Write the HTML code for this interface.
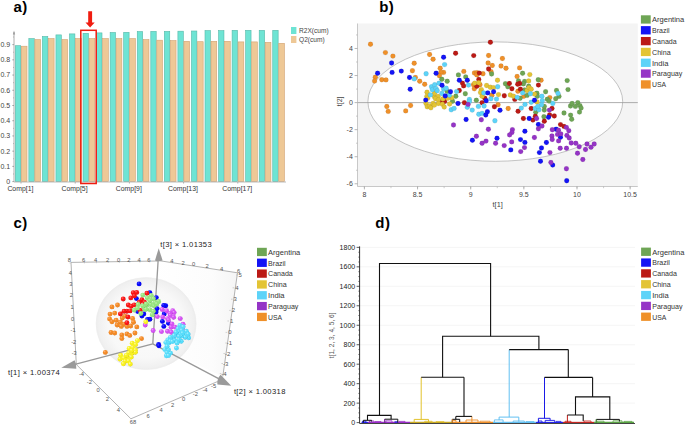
<!DOCTYPE html><html><head><meta charset="utf-8"><style>html,body{margin:0;padding:0;background:#fff;} svg{display:block;font-family:"Liberation Sans", sans-serif;}</style></head><body>
<svg width="685" height="426" viewBox="0 0 685 426">
<text x="13.40" y="11.80" font-size="15" text-anchor="start" fill="#000" font-weight="bold" letter-spacing="0.6">a)</text>
<rect x="15.30" y="45.70" width="5.4" height="135.90" fill="#6ee4d4" stroke="#55b8a8" stroke-width="0.6"/>
<rect x="21.30" y="46.20" width="5.7" height="135.40" fill="#eec896" stroke="#d2a272" stroke-width="0.6"/>
<rect x="28.85" y="38.60" width="5.4" height="143.00" fill="#6ee4d4" stroke="#55b8a8" stroke-width="0.6"/>
<rect x="34.85" y="39.60" width="5.7" height="142.00" fill="#eec896" stroke="#d2a272" stroke-width="0.6"/>
<rect x="42.40" y="36.50" width="5.4" height="145.10" fill="#6ee4d4" stroke="#55b8a8" stroke-width="0.6"/>
<rect x="48.40" y="38.60" width="5.7" height="143.00" fill="#eec896" stroke="#d2a272" stroke-width="0.6"/>
<rect x="55.95" y="34.90" width="5.4" height="146.70" fill="#6ee4d4" stroke="#55b8a8" stroke-width="0.6"/>
<rect x="61.95" y="39.60" width="5.7" height="142.00" fill="#eec896" stroke="#d2a272" stroke-width="0.6"/>
<rect x="69.50" y="33.90" width="5.4" height="147.70" fill="#6ee4d4" stroke="#55b8a8" stroke-width="0.6"/>
<rect x="75.50" y="38.60" width="5.7" height="143.00" fill="#eec896" stroke="#d2a272" stroke-width="0.6"/>
<rect x="83.05" y="33.30" width="5.4" height="148.30" fill="#6ee4d4" stroke="#55b8a8" stroke-width="0.6"/>
<rect x="89.05" y="38.60" width="5.7" height="143.00" fill="#eec896" stroke="#d2a272" stroke-width="0.6"/>
<rect x="96.60" y="32.90" width="5.4" height="148.70" fill="#6ee4d4" stroke="#55b8a8" stroke-width="0.6"/>
<rect x="102.60" y="38.60" width="5.7" height="143.00" fill="#eec896" stroke="#d2a272" stroke-width="0.6"/>
<rect x="110.15" y="32.50" width="5.4" height="149.10" fill="#6ee4d4" stroke="#55b8a8" stroke-width="0.6"/>
<rect x="116.15" y="38.60" width="5.7" height="143.00" fill="#eec896" stroke="#d2a272" stroke-width="0.6"/>
<rect x="123.70" y="32.30" width="5.4" height="149.30" fill="#6ee4d4" stroke="#55b8a8" stroke-width="0.6"/>
<rect x="129.70" y="38.60" width="5.7" height="143.00" fill="#eec896" stroke="#d2a272" stroke-width="0.6"/>
<rect x="137.25" y="31.60" width="5.4" height="150.00" fill="#6ee4d4" stroke="#55b8a8" stroke-width="0.6"/>
<rect x="143.25" y="39.60" width="5.7" height="142.00" fill="#eec896" stroke="#d2a272" stroke-width="0.6"/>
<rect x="150.80" y="31.40" width="5.4" height="150.20" fill="#6ee4d4" stroke="#55b8a8" stroke-width="0.6"/>
<rect x="156.80" y="40.20" width="5.7" height="141.40" fill="#eec896" stroke="#d2a272" stroke-width="0.6"/>
<rect x="164.35" y="31.40" width="5.4" height="150.20" fill="#6ee4d4" stroke="#55b8a8" stroke-width="0.6"/>
<rect x="170.35" y="40.60" width="5.7" height="141.00" fill="#eec896" stroke="#d2a272" stroke-width="0.6"/>
<rect x="177.90" y="31.20" width="5.4" height="150.40" fill="#6ee4d4" stroke="#55b8a8" stroke-width="0.6"/>
<rect x="183.90" y="41.30" width="5.7" height="140.30" fill="#eec896" stroke="#d2a272" stroke-width="0.6"/>
<rect x="191.45" y="31.00" width="5.4" height="150.60" fill="#6ee4d4" stroke="#55b8a8" stroke-width="0.6"/>
<rect x="197.45" y="41.70" width="5.7" height="139.90" fill="#eec896" stroke="#d2a272" stroke-width="0.6"/>
<rect x="205.00" y="30.60" width="5.4" height="151.00" fill="#6ee4d4" stroke="#55b8a8" stroke-width="0.6"/>
<rect x="211.00" y="41.30" width="5.7" height="140.30" fill="#eec896" stroke="#d2a272" stroke-width="0.6"/>
<rect x="218.55" y="30.60" width="5.4" height="151.00" fill="#6ee4d4" stroke="#55b8a8" stroke-width="0.6"/>
<rect x="224.55" y="41.30" width="5.7" height="140.30" fill="#eec896" stroke="#d2a272" stroke-width="0.6"/>
<rect x="232.10" y="30.30" width="5.4" height="151.30" fill="#6ee4d4" stroke="#55b8a8" stroke-width="0.6"/>
<rect x="238.10" y="41.90" width="5.7" height="139.70" fill="#eec896" stroke="#d2a272" stroke-width="0.6"/>
<rect x="245.65" y="30.30" width="5.4" height="151.30" fill="#6ee4d4" stroke="#55b8a8" stroke-width="0.6"/>
<rect x="251.65" y="41.90" width="5.7" height="139.70" fill="#eec896" stroke="#d2a272" stroke-width="0.6"/>
<rect x="259.20" y="30.30" width="5.4" height="151.30" fill="#6ee4d4" stroke="#55b8a8" stroke-width="0.6"/>
<rect x="265.20" y="42.40" width="5.7" height="139.20" fill="#eec896" stroke="#d2a272" stroke-width="0.6"/>
<rect x="272.75" y="30.30" width="5.4" height="151.30" fill="#6ee4d4" stroke="#55b8a8" stroke-width="0.6"/>
<rect x="278.75" y="43.30" width="5.7" height="138.30" fill="#eec896" stroke="#d2a272" stroke-width="0.6"/>
<line x1="14.00" y1="32.00" x2="14.00" y2="182.00" stroke="#999" stroke-width="0.8" />
<path d="M12.9,34.6 L14,30.4 L15.1,34.6 Z" fill="#999"/>
<line x1="14.00" y1="182.00" x2="286.00" y2="182.00" stroke="#aaa" stroke-width="0.8" />
<line x1="12.30" y1="181.60" x2="14.00" y2="181.60" stroke="#888" stroke-width="0.7" />
<text x="10.20" y="184.00" font-size="7" text-anchor="end" fill="#444" font-weight="normal" >0</text>
<line x1="13.00" y1="173.99" x2="14.00" y2="173.99" stroke="#999" stroke-width="0.6" />
<line x1="12.30" y1="166.38" x2="14.00" y2="166.38" stroke="#888" stroke-width="0.7" />
<text x="10.20" y="168.78" font-size="7" text-anchor="end" fill="#444" font-weight="normal" >0.1</text>
<line x1="13.00" y1="158.77" x2="14.00" y2="158.77" stroke="#999" stroke-width="0.6" />
<line x1="12.30" y1="151.16" x2="14.00" y2="151.16" stroke="#888" stroke-width="0.7" />
<text x="10.20" y="153.56" font-size="7" text-anchor="end" fill="#444" font-weight="normal" >0.2</text>
<line x1="13.00" y1="143.55" x2="14.00" y2="143.55" stroke="#999" stroke-width="0.6" />
<line x1="12.30" y1="135.94" x2="14.00" y2="135.94" stroke="#888" stroke-width="0.7" />
<text x="10.20" y="138.34" font-size="7" text-anchor="end" fill="#444" font-weight="normal" >0.3</text>
<line x1="13.00" y1="128.33" x2="14.00" y2="128.33" stroke="#999" stroke-width="0.6" />
<line x1="12.30" y1="120.72" x2="14.00" y2="120.72" stroke="#888" stroke-width="0.7" />
<text x="10.20" y="123.12" font-size="7" text-anchor="end" fill="#444" font-weight="normal" >0.4</text>
<line x1="13.00" y1="113.11" x2="14.00" y2="113.11" stroke="#999" stroke-width="0.6" />
<line x1="12.30" y1="105.50" x2="14.00" y2="105.50" stroke="#888" stroke-width="0.7" />
<text x="10.20" y="107.90" font-size="7" text-anchor="end" fill="#444" font-weight="normal" >0.5</text>
<line x1="13.00" y1="97.89" x2="14.00" y2="97.89" stroke="#999" stroke-width="0.6" />
<line x1="12.30" y1="90.28" x2="14.00" y2="90.28" stroke="#888" stroke-width="0.7" />
<text x="10.20" y="92.68" font-size="7" text-anchor="end" fill="#444" font-weight="normal" >0.6</text>
<line x1="13.00" y1="82.67" x2="14.00" y2="82.67" stroke="#999" stroke-width="0.6" />
<line x1="12.30" y1="75.06" x2="14.00" y2="75.06" stroke="#888" stroke-width="0.7" />
<text x="10.20" y="77.46" font-size="7" text-anchor="end" fill="#444" font-weight="normal" >0.7</text>
<line x1="13.00" y1="67.45" x2="14.00" y2="67.45" stroke="#999" stroke-width="0.6" />
<line x1="12.30" y1="59.84" x2="14.00" y2="59.84" stroke="#888" stroke-width="0.7" />
<text x="10.20" y="62.24" font-size="7" text-anchor="end" fill="#444" font-weight="normal" >0.8</text>
<line x1="13.00" y1="52.23" x2="14.00" y2="52.23" stroke="#999" stroke-width="0.6" />
<line x1="12.30" y1="44.62" x2="14.00" y2="44.62" stroke="#888" stroke-width="0.7" />
<text x="10.20" y="47.02" font-size="7" text-anchor="end" fill="#444" font-weight="normal" >0.9</text>
<line x1="13.00" y1="37.01" x2="14.00" y2="37.01" stroke="#999" stroke-width="0.6" />
<line x1="21.00" y1="182.00" x2="21.00" y2="183.60" stroke="#999" stroke-width="0.7" />
<text x="20.40" y="191.30" font-size="6.9" text-anchor="middle" fill="#333" font-weight="normal" >Comp[1]</text>
<line x1="75.20" y1="182.00" x2="75.20" y2="183.60" stroke="#999" stroke-width="0.7" />
<text x="74.60" y="191.30" font-size="6.9" text-anchor="middle" fill="#333" font-weight="normal" >Comp[5]</text>
<line x1="129.40" y1="182.00" x2="129.40" y2="183.60" stroke="#999" stroke-width="0.7" />
<text x="128.80" y="191.30" font-size="6.9" text-anchor="middle" fill="#333" font-weight="normal" >Comp[9]</text>
<line x1="183.60" y1="182.00" x2="183.60" y2="183.60" stroke="#999" stroke-width="0.7" />
<text x="183.00" y="191.30" font-size="6.9" text-anchor="middle" fill="#333" font-weight="normal" >Comp[13]</text>
<line x1="237.80" y1="182.00" x2="237.80" y2="183.60" stroke="#999" stroke-width="0.7" />
<text x="237.20" y="191.30" font-size="6.9" text-anchor="middle" fill="#333" font-weight="normal" >Comp[17]</text>
<rect x="80.8" y="30.3" width="15.4" height="153.2" fill="none" stroke="#f01c10" stroke-width="1.5"/>
<path d="M88.2,11.3 H92.1 V22.6 H94.7 L90.1,27.4 L85.5,22.6 H88.2 Z" fill="#f01c10"/>
<rect x="291" y="27" width="5.4" height="7" fill="#6ee4d4"/>
<rect x="291" y="36" width="5.4" height="7" fill="#eec896"/>
<text x="299.00" y="33.20" font-size="6.6" text-anchor="start" fill="#444" font-weight="normal" >R2X(cum)</text>
<text x="299.00" y="42.20" font-size="6.6" text-anchor="start" fill="#444" font-weight="normal" >Q2(cum)</text>
<text x="379.30" y="11.80" font-size="15" text-anchor="start" fill="#000" font-weight="bold" letter-spacing="0.4">b)</text>
<rect x="357.5" y="23.5" width="280.3" height="163" fill="#f4f4f4"/>
<ellipse cx="495.3" cy="101.6" rx="127.4" ry="59.7" fill="#fff" stroke="#aaa" stroke-width="0.7"/>
<line x1="357.50" y1="102.60" x2="637.80" y2="102.60" stroke="#999" stroke-width="0.8" />
<line x1="357.50" y1="23.50" x2="357.50" y2="186.50" stroke="#bbb" stroke-width="0.8" />
<line x1="357.50" y1="186.50" x2="637.80" y2="186.50" stroke="#bbb" stroke-width="0.8" />
<line x1="354.60" y1="48.48" x2="357.50" y2="48.48" stroke="#999" stroke-width="0.7" />
<text x="352.80" y="50.88" font-size="7" text-anchor="end" fill="#444" font-weight="normal" >4</text>
<line x1="354.60" y1="75.54" x2="357.50" y2="75.54" stroke="#999" stroke-width="0.7" />
<text x="352.80" y="77.94" font-size="7" text-anchor="end" fill="#444" font-weight="normal" >2</text>
<line x1="354.60" y1="102.60" x2="357.50" y2="102.60" stroke="#999" stroke-width="0.7" />
<text x="352.80" y="105.00" font-size="7" text-anchor="end" fill="#444" font-weight="normal" >0</text>
<line x1="354.60" y1="129.66" x2="357.50" y2="129.66" stroke="#999" stroke-width="0.7" />
<text x="352.80" y="132.06" font-size="7" text-anchor="end" fill="#444" font-weight="normal" >-2</text>
<line x1="354.60" y1="156.72" x2="357.50" y2="156.72" stroke="#999" stroke-width="0.7" />
<text x="352.80" y="159.12" font-size="7" text-anchor="end" fill="#444" font-weight="normal" >-4</text>
<line x1="354.60" y1="183.78" x2="357.50" y2="183.78" stroke="#999" stroke-width="0.7" />
<text x="352.80" y="186.18" font-size="7" text-anchor="end" fill="#444" font-weight="normal" >-6</text>
<line x1="356.00" y1="34.95" x2="357.50" y2="34.95" stroke="#aaa" stroke-width="0.6" />
<line x1="356.00" y1="62.01" x2="357.50" y2="62.01" stroke="#aaa" stroke-width="0.6" />
<line x1="356.00" y1="89.07" x2="357.50" y2="89.07" stroke="#aaa" stroke-width="0.6" />
<line x1="356.00" y1="116.13" x2="357.50" y2="116.13" stroke="#aaa" stroke-width="0.6" />
<line x1="356.00" y1="143.19" x2="357.50" y2="143.19" stroke="#aaa" stroke-width="0.6" />
<line x1="356.00" y1="170.25" x2="357.50" y2="170.25" stroke="#aaa" stroke-width="0.6" />
<line x1="364.40" y1="186.50" x2="364.40" y2="189.40" stroke="#999" stroke-width="0.7" />
<text x="364.40" y="197.40" font-size="7" text-anchor="middle" fill="#444" font-weight="normal" >8</text>
<line x1="417.55" y1="186.50" x2="417.55" y2="189.40" stroke="#999" stroke-width="0.7" />
<text x="417.55" y="197.40" font-size="7" text-anchor="middle" fill="#444" font-weight="normal" >8.5</text>
<line x1="470.70" y1="186.50" x2="470.70" y2="189.40" stroke="#999" stroke-width="0.7" />
<text x="470.70" y="197.40" font-size="7" text-anchor="middle" fill="#444" font-weight="normal" >9</text>
<line x1="523.85" y1="186.50" x2="523.85" y2="189.40" stroke="#999" stroke-width="0.7" />
<text x="523.85" y="197.40" font-size="7" text-anchor="middle" fill="#444" font-weight="normal" >9.5</text>
<line x1="577.00" y1="186.50" x2="577.00" y2="189.40" stroke="#999" stroke-width="0.7" />
<text x="577.00" y="197.40" font-size="7" text-anchor="middle" fill="#444" font-weight="normal" >10</text>
<line x1="630.15" y1="186.50" x2="630.15" y2="189.40" stroke="#999" stroke-width="0.7" />
<text x="630.15" y="197.40" font-size="7" text-anchor="middle" fill="#444" font-weight="normal" >10.5</text>
<line x1="364.40" y1="186.50" x2="364.40" y2="188.20" stroke="#aaa" stroke-width="0.6" />
<line x1="390.98" y1="186.50" x2="390.98" y2="188.20" stroke="#aaa" stroke-width="0.6" />
<line x1="417.55" y1="186.50" x2="417.55" y2="188.20" stroke="#aaa" stroke-width="0.6" />
<line x1="444.12" y1="186.50" x2="444.12" y2="188.20" stroke="#aaa" stroke-width="0.6" />
<line x1="470.70" y1="186.50" x2="470.70" y2="188.20" stroke="#aaa" stroke-width="0.6" />
<line x1="497.27" y1="186.50" x2="497.27" y2="188.20" stroke="#aaa" stroke-width="0.6" />
<line x1="523.85" y1="186.50" x2="523.85" y2="188.20" stroke="#aaa" stroke-width="0.6" />
<line x1="550.42" y1="186.50" x2="550.42" y2="188.20" stroke="#aaa" stroke-width="0.6" />
<line x1="577.00" y1="186.50" x2="577.00" y2="188.20" stroke="#aaa" stroke-width="0.6" />
<line x1="603.58" y1="186.50" x2="603.58" y2="188.20" stroke="#aaa" stroke-width="0.6" />
<line x1="630.15" y1="186.50" x2="630.15" y2="188.20" stroke="#aaa" stroke-width="0.6" />
<text x="497.70" y="206.80" font-size="7.4" text-anchor="middle" fill="#444" font-weight="normal" >t[1]</text>
<text x="0.00" y="0.00" font-size="7" text-anchor="middle" fill="#444" font-weight="normal" transform="translate(342.2,101.3) rotate(-90)">t[2]</text>
<circle cx="370.5" cy="44.2" r="2.45" fill="#ef9029" stroke="#0002" stroke-width="0.5"/>
<circle cx="385.4" cy="52.6" r="2.45" fill="#ef9029" stroke="#0002" stroke-width="0.5"/>
<circle cx="392.9" cy="56.1" r="2.45" fill="#ef9029" stroke="#0002" stroke-width="0.5"/>
<circle cx="414.2" cy="63.2" r="2.45" fill="#ef9029" stroke="#0002" stroke-width="0.5"/>
<circle cx="412.4" cy="70.7" r="2.45" fill="#ef9029" stroke="#0002" stroke-width="0.5"/>
<circle cx="375.3" cy="77.3" r="2.45" fill="#ef9029" stroke="#0002" stroke-width="0.5"/>
<circle cx="374.6" cy="81.1" r="2.45" fill="#ef9029" stroke="#0002" stroke-width="0.5"/>
<circle cx="381.8" cy="79.7" r="2.45" fill="#ef9029" stroke="#0002" stroke-width="0.5"/>
<circle cx="386.0" cy="79.9" r="2.45" fill="#ef9029" stroke="#0002" stroke-width="0.5"/>
<circle cx="415.4" cy="77.5" r="2.45" fill="#ef9029" stroke="#0002" stroke-width="0.5"/>
<circle cx="419.7" cy="81.2" r="2.45" fill="#ef9029" stroke="#0002" stroke-width="0.5"/>
<circle cx="386.8" cy="106.5" r="2.45" fill="#ef9029" stroke="#0002" stroke-width="0.5"/>
<circle cx="388.2" cy="111.4" r="2.45" fill="#ef9029" stroke="#0002" stroke-width="0.5"/>
<circle cx="410.6" cy="105.5" r="2.45" fill="#ef9029" stroke="#0002" stroke-width="0.5"/>
<circle cx="405.7" cy="110.9" r="2.45" fill="#ef9029" stroke="#0002" stroke-width="0.5"/>
<circle cx="429.6" cy="54.5" r="2.45" fill="#ef9029" stroke="#0002" stroke-width="0.5"/>
<circle cx="433.1" cy="59.2" r="2.45" fill="#ef9029" stroke="#0002" stroke-width="0.5"/>
<circle cx="440.2" cy="68.3" r="2.45" fill="#ef9029" stroke="#0002" stroke-width="0.5"/>
<circle cx="443.6" cy="72.4" r="2.45" fill="#ef9029" stroke="#0002" stroke-width="0.5"/>
<circle cx="440.8" cy="72.4" r="2.45" fill="#ef9029" stroke="#0002" stroke-width="0.5"/>
<circle cx="463.8" cy="71.4" r="2.45" fill="#ef9029" stroke="#0002" stroke-width="0.5"/>
<circle cx="474.4" cy="73.0" r="2.45" fill="#ef9029" stroke="#0002" stroke-width="0.5"/>
<circle cx="488.6" cy="55.5" r="2.45" fill="#ef9029" stroke="#0002" stroke-width="0.5"/>
<circle cx="502.4" cy="58.5" r="2.45" fill="#ef9029" stroke="#0002" stroke-width="0.5"/>
<circle cx="488.1" cy="63.0" r="2.45" fill="#ef9029" stroke="#0002" stroke-width="0.5"/>
<circle cx="492.3" cy="65.5" r="2.45" fill="#ef9029" stroke="#0002" stroke-width="0.5"/>
<circle cx="501.0" cy="66.0" r="2.45" fill="#ef9029" stroke="#0002" stroke-width="0.5"/>
<circle cx="506.0" cy="68.3" r="2.45" fill="#ef9029" stroke="#0002" stroke-width="0.5"/>
<circle cx="519.6" cy="67.9" r="2.45" fill="#ef9029" stroke="#0002" stroke-width="0.5"/>
<circle cx="491.1" cy="71.8" r="2.45" fill="#ef9029" stroke="#0002" stroke-width="0.5"/>
<circle cx="477.0" cy="72.6" r="2.45" fill="#ef9029" stroke="#0002" stroke-width="0.5"/>
<circle cx="483.0" cy="73.7" r="2.45" fill="#ef9029" stroke="#0002" stroke-width="0.5"/>
<circle cx="517.1" cy="76.5" r="2.45" fill="#ef9029" stroke="#0002" stroke-width="0.5"/>
<circle cx="439.4" cy="75.7" r="2.45" fill="#ef9029" stroke="#0002" stroke-width="0.5"/>
<circle cx="424.7" cy="84.3" r="2.45" fill="#ef9029" stroke="#0002" stroke-width="0.5"/>
<circle cx="476.8" cy="74.9" r="2.45" fill="#ef9029" stroke="#0002" stroke-width="0.5"/>
<circle cx="473.5" cy="84.7" r="2.45" fill="#ef9029" stroke="#0002" stroke-width="0.5"/>
<circle cx="480.0" cy="84.7" r="2.45" fill="#ef9029" stroke="#0002" stroke-width="0.5"/>
<circle cx="474.3" cy="88.8" r="2.45" fill="#ef9029" stroke="#0002" stroke-width="0.5"/>
<circle cx="491.9" cy="95.2" r="2.45" fill="#ef9029" stroke="#0002" stroke-width="0.5"/>
<circle cx="498.1" cy="104.8" r="2.45" fill="#ef9029" stroke="#0002" stroke-width="0.5"/>
<circle cx="517.9" cy="91.3" r="2.45" fill="#ef9029" stroke="#0002" stroke-width="0.5"/>
<circle cx="541.1" cy="80.2" r="2.45" fill="#ef9029" stroke="#0002" stroke-width="0.5"/>
<circle cx="523.8" cy="96.2" r="2.45" fill="#ef9029" stroke="#0002" stroke-width="0.5"/>
<circle cx="549.8" cy="97.6" r="2.45" fill="#ef9029" stroke="#0002" stroke-width="0.5"/>
<circle cx="508.2" cy="108.5" r="2.45" fill="#ef9029" stroke="#0002" stroke-width="0.5"/>
<circle cx="458.4" cy="74.9" r="2.45" fill="#6ea555" stroke="#0002" stroke-width="0.5"/>
<circle cx="491.6" cy="74.0" r="2.45" fill="#6ea555" stroke="#0002" stroke-width="0.5"/>
<circle cx="522.6" cy="73.3" r="2.45" fill="#6ea555" stroke="#0002" stroke-width="0.5"/>
<circle cx="441.8" cy="79.3" r="2.45" fill="#6ea555" stroke="#0002" stroke-width="0.5"/>
<circle cx="447.2" cy="81.3" r="2.45" fill="#6ea555" stroke="#0002" stroke-width="0.5"/>
<circle cx="447.2" cy="91.4" r="2.45" fill="#6ea555" stroke="#0002" stroke-width="0.5"/>
<circle cx="455.8" cy="96.3" r="2.45" fill="#6ea555" stroke="#0002" stroke-width="0.5"/>
<circle cx="452.5" cy="101.3" r="2.45" fill="#6ea555" stroke="#0002" stroke-width="0.5"/>
<circle cx="465.7" cy="76.9" r="2.45" fill="#6ea555" stroke="#0002" stroke-width="0.5"/>
<circle cx="465.3" cy="93.7" r="2.45" fill="#6ea555" stroke="#0002" stroke-width="0.5"/>
<circle cx="476.3" cy="100.3" r="2.45" fill="#6ea555" stroke="#0002" stroke-width="0.5"/>
<circle cx="505.4" cy="83.7" r="2.45" fill="#6ea555" stroke="#0002" stroke-width="0.5"/>
<circle cx="518.5" cy="81.0" r="2.45" fill="#6ea555" stroke="#0002" stroke-width="0.5"/>
<circle cx="524.6" cy="81.4" r="2.45" fill="#6ea555" stroke="#0002" stroke-width="0.5"/>
<circle cx="523.4" cy="83.9" r="2.45" fill="#6ea555" stroke="#0002" stroke-width="0.5"/>
<circle cx="507.8" cy="86.8" r="2.45" fill="#6ea555" stroke="#0002" stroke-width="0.5"/>
<circle cx="524.6" cy="90.0" r="2.45" fill="#6ea555" stroke="#0002" stroke-width="0.5"/>
<circle cx="528.7" cy="86.3" r="2.45" fill="#6ea555" stroke="#0002" stroke-width="0.5"/>
<circle cx="536.9" cy="93.3" r="2.45" fill="#6ea555" stroke="#0002" stroke-width="0.5"/>
<circle cx="537.4" cy="96.2" r="2.45" fill="#6ea555" stroke="#0002" stroke-width="0.5"/>
<circle cx="545.6" cy="91.7" r="2.45" fill="#6ea555" stroke="#0002" stroke-width="0.5"/>
<circle cx="538.2" cy="79.8" r="2.45" fill="#6ea555" stroke="#0002" stroke-width="0.5"/>
<circle cx="520.1" cy="98.3" r="2.45" fill="#6ea555" stroke="#0002" stroke-width="0.5"/>
<circle cx="527.1" cy="95.4" r="2.45" fill="#6ea555" stroke="#0002" stroke-width="0.5"/>
<circle cx="547.3" cy="99.3" r="2.45" fill="#6ea555" stroke="#0002" stroke-width="0.5"/>
<circle cx="544.3" cy="110.1" r="2.45" fill="#6ea555" stroke="#0002" stroke-width="0.5"/>
<circle cx="544.3" cy="106.4" r="2.45" fill="#6ea555" stroke="#0002" stroke-width="0.5"/>
<circle cx="535.7" cy="112.2" r="2.45" fill="#6ea555" stroke="#0002" stroke-width="0.5"/>
<circle cx="543.9" cy="116.7" r="2.45" fill="#6ea555" stroke="#0002" stroke-width="0.5"/>
<circle cx="567.2" cy="80.6" r="2.45" fill="#6ea555" stroke="#0002" stroke-width="0.5"/>
<circle cx="568.0" cy="89.6" r="2.45" fill="#6ea555" stroke="#0002" stroke-width="0.5"/>
<circle cx="556.5" cy="90.5" r="2.45" fill="#6ea555" stroke="#0002" stroke-width="0.5"/>
<circle cx="559.0" cy="96.4" r="2.45" fill="#6ea555" stroke="#0002" stroke-width="0.5"/>
<circle cx="555.7" cy="98.8" r="2.45" fill="#6ea555" stroke="#0002" stroke-width="0.5"/>
<circle cx="549.1" cy="101.1" r="2.45" fill="#6ea555" stroke="#0002" stroke-width="0.5"/>
<circle cx="570.5" cy="106.0" r="2.45" fill="#6ea555" stroke="#0002" stroke-width="0.5"/>
<circle cx="572.1" cy="103.5" r="2.45" fill="#6ea555" stroke="#0002" stroke-width="0.5"/>
<circle cx="575.4" cy="106.4" r="2.45" fill="#6ea555" stroke="#0002" stroke-width="0.5"/>
<circle cx="577.8" cy="102.7" r="2.45" fill="#6ea555" stroke="#0002" stroke-width="0.5"/>
<circle cx="579.9" cy="105.6" r="2.45" fill="#6ea555" stroke="#0002" stroke-width="0.5"/>
<circle cx="581.1" cy="108.1" r="2.45" fill="#6ea555" stroke="#0002" stroke-width="0.5"/>
<circle cx="579.5" cy="112.1" r="2.45" fill="#6ea555" stroke="#0002" stroke-width="0.5"/>
<circle cx="564.0" cy="113.0" r="2.45" fill="#6ea555" stroke="#0002" stroke-width="0.5"/>
<circle cx="570.6" cy="115.1" r="2.45" fill="#6ea555" stroke="#0002" stroke-width="0.5"/>
<circle cx="571.7" cy="119.2" r="2.45" fill="#6ea555" stroke="#0002" stroke-width="0.5"/>
<circle cx="455.6" cy="53.3" r="2.45" fill="#bb1a16" stroke="#0002" stroke-width="0.5"/>
<circle cx="473.7" cy="55.6" r="2.45" fill="#bb1a16" stroke="#0002" stroke-width="0.5"/>
<circle cx="490.4" cy="42.3" r="2.45" fill="#bb1a16" stroke="#0002" stroke-width="0.5"/>
<circle cx="488.6" cy="69.0" r="2.45" fill="#bb1a16" stroke="#0002" stroke-width="0.5"/>
<circle cx="479.3" cy="73.1" r="2.45" fill="#bb1a16" stroke="#0002" stroke-width="0.5"/>
<circle cx="459.3" cy="90.5" r="2.45" fill="#bb1a16" stroke="#0002" stroke-width="0.5"/>
<circle cx="444.6" cy="101.5" r="2.45" fill="#bb1a16" stroke="#0002" stroke-width="0.5"/>
<circle cx="441.8" cy="101.5" r="2.45" fill="#bb1a16" stroke="#0002" stroke-width="0.5"/>
<circle cx="462.4" cy="83.1" r="2.45" fill="#bb1a16" stroke="#0002" stroke-width="0.5"/>
<circle cx="463.6" cy="85.9" r="2.45" fill="#bb1a16" stroke="#0002" stroke-width="0.5"/>
<circle cx="478.8" cy="79.4" r="2.45" fill="#bb1a16" stroke="#0002" stroke-width="0.5"/>
<circle cx="476.8" cy="86.3" r="2.45" fill="#bb1a16" stroke="#0002" stroke-width="0.5"/>
<circle cx="484.8" cy="98.2" r="2.45" fill="#bb1a16" stroke="#0002" stroke-width="0.5"/>
<circle cx="504.3" cy="95.8" r="2.45" fill="#bb1a16" stroke="#0002" stroke-width="0.5"/>
<circle cx="464.4" cy="102.7" r="2.45" fill="#bb1a16" stroke="#0002" stroke-width="0.5"/>
<circle cx="482.1" cy="102.7" r="2.45" fill="#bb1a16" stroke="#0002" stroke-width="0.5"/>
<circle cx="494.4" cy="106.8" r="2.45" fill="#bb1a16" stroke="#0002" stroke-width="0.5"/>
<circle cx="519.7" cy="83.5" r="2.45" fill="#bb1a16" stroke="#0002" stroke-width="0.5"/>
<circle cx="517.7" cy="84.3" r="2.45" fill="#bb1a16" stroke="#0002" stroke-width="0.5"/>
<circle cx="509.4" cy="83.5" r="2.45" fill="#bb1a16" stroke="#0002" stroke-width="0.5"/>
<circle cx="511.9" cy="88.8" r="2.45" fill="#bb1a16" stroke="#0002" stroke-width="0.5"/>
<circle cx="520.4" cy="89.2" r="2.45" fill="#bb1a16" stroke="#0002" stroke-width="0.5"/>
<circle cx="538.4" cy="85.1" r="2.45" fill="#bb1a16" stroke="#0002" stroke-width="0.5"/>
<circle cx="514.8" cy="99.4" r="2.45" fill="#bb1a16" stroke="#0002" stroke-width="0.5"/>
<circle cx="518.1" cy="111.3" r="2.45" fill="#bb1a16" stroke="#0002" stroke-width="0.5"/>
<circle cx="531.2" cy="108.5" r="2.45" fill="#bb1a16" stroke="#0002" stroke-width="0.5"/>
<circle cx="523.4" cy="118.5" r="2.45" fill="#bb1a16" stroke="#0002" stroke-width="0.5"/>
<circle cx="532.9" cy="120.1" r="2.45" fill="#bb1a16" stroke="#0002" stroke-width="0.5"/>
<circle cx="535.3" cy="116.3" r="2.45" fill="#bb1a16" stroke="#0002" stroke-width="0.5"/>
<circle cx="544.3" cy="121.2" r="2.45" fill="#bb1a16" stroke="#0002" stroke-width="0.5"/>
<circle cx="549.6" cy="115.0" r="2.45" fill="#bb1a16" stroke="#0002" stroke-width="0.5"/>
<circle cx="552.0" cy="108.5" r="2.45" fill="#bb1a16" stroke="#0002" stroke-width="0.5"/>
<circle cx="554.3" cy="116.0" r="2.45" fill="#bb1a16" stroke="#0002" stroke-width="0.5"/>
<circle cx="560.5" cy="124.6" r="2.45" fill="#bb1a16" stroke="#0002" stroke-width="0.5"/>
<circle cx="564.0" cy="126.4" r="2.45" fill="#bb1a16" stroke="#0002" stroke-width="0.5"/>
<circle cx="529.8" cy="74.6" r="2.45" fill="#e3c435" stroke="#0002" stroke-width="0.5"/>
<circle cx="427.0" cy="92.2" r="2.45" fill="#e3c435" stroke="#0002" stroke-width="0.5"/>
<circle cx="426.8" cy="96.5" r="2.45" fill="#e3c435" stroke="#0002" stroke-width="0.5"/>
<circle cx="434.4" cy="96.8" r="2.45" fill="#e3c435" stroke="#0002" stroke-width="0.5"/>
<circle cx="438.2" cy="96.5" r="2.45" fill="#e3c435" stroke="#0002" stroke-width="0.5"/>
<circle cx="451.9" cy="97.8" r="2.45" fill="#e3c435" stroke="#0002" stroke-width="0.5"/>
<circle cx="427.6" cy="98.2" r="2.45" fill="#e3c435" stroke="#0002" stroke-width="0.5"/>
<circle cx="435.5" cy="98.7" r="2.45" fill="#e3c435" stroke="#0002" stroke-width="0.5"/>
<circle cx="442.9" cy="99.0" r="2.45" fill="#e3c435" stroke="#0002" stroke-width="0.5"/>
<circle cx="426.0" cy="103.5" r="2.45" fill="#e3c435" stroke="#0002" stroke-width="0.5"/>
<circle cx="427.2" cy="106.8" r="2.45" fill="#e3c435" stroke="#0002" stroke-width="0.5"/>
<circle cx="429.6" cy="106.0" r="2.45" fill="#e3c435" stroke="#0002" stroke-width="0.5"/>
<circle cx="430.9" cy="107.8" r="2.45" fill="#e3c435" stroke="#0002" stroke-width="0.5"/>
<circle cx="433.1" cy="103.5" r="2.45" fill="#e3c435" stroke="#0002" stroke-width="0.5"/>
<circle cx="434.5" cy="93.2" r="2.45" fill="#e3c435" stroke="#0002" stroke-width="0.5"/>
<circle cx="438.4" cy="99.8" r="2.45" fill="#e3c435" stroke="#0002" stroke-width="0.5"/>
<circle cx="438.4" cy="103.5" r="2.45" fill="#e3c435" stroke="#0002" stroke-width="0.5"/>
<circle cx="442.4" cy="104.3" r="2.45" fill="#e3c435" stroke="#0002" stroke-width="0.5"/>
<circle cx="444.2" cy="107.0" r="2.45" fill="#e3c435" stroke="#0002" stroke-width="0.5"/>
<circle cx="447.8" cy="98.2" r="2.45" fill="#e3c435" stroke="#0002" stroke-width="0.5"/>
<circle cx="449.6" cy="104.0" r="2.45" fill="#e3c435" stroke="#0002" stroke-width="0.5"/>
<circle cx="474.7" cy="83.1" r="2.45" fill="#e3c435" stroke="#0002" stroke-width="0.5"/>
<circle cx="478.8" cy="82.7" r="2.45" fill="#e3c435" stroke="#0002" stroke-width="0.5"/>
<circle cx="497.5" cy="80.2" r="2.45" fill="#e3c435" stroke="#0002" stroke-width="0.5"/>
<circle cx="486.6" cy="85.5" r="2.45" fill="#e3c435" stroke="#0002" stroke-width="0.5"/>
<circle cx="490.3" cy="87.2" r="2.45" fill="#e3c435" stroke="#0002" stroke-width="0.5"/>
<circle cx="493.6" cy="87.6" r="2.45" fill="#e3c435" stroke="#0002" stroke-width="0.5"/>
<circle cx="481.3" cy="89.6" r="2.45" fill="#e3c435" stroke="#0002" stroke-width="0.5"/>
<circle cx="480.5" cy="92.5" r="2.45" fill="#e3c435" stroke="#0002" stroke-width="0.5"/>
<circle cx="498.5" cy="94.6" r="2.45" fill="#e3c435" stroke="#0002" stroke-width="0.5"/>
<circle cx="482.1" cy="96.2" r="2.45" fill="#e3c435" stroke="#0002" stroke-width="0.5"/>
<circle cx="528.7" cy="81.0" r="2.45" fill="#e3c435" stroke="#0002" stroke-width="0.5"/>
<circle cx="527.1" cy="90.5" r="2.45" fill="#e3c435" stroke="#0002" stroke-width="0.5"/>
<circle cx="529.1" cy="87.6" r="2.45" fill="#e3c435" stroke="#0002" stroke-width="0.5"/>
<circle cx="531.2" cy="89.2" r="2.45" fill="#e3c435" stroke="#0002" stroke-width="0.5"/>
<circle cx="534.5" cy="94.1" r="2.45" fill="#e3c435" stroke="#0002" stroke-width="0.5"/>
<circle cx="510.3" cy="95.0" r="2.45" fill="#e3c435" stroke="#0002" stroke-width="0.5"/>
<circle cx="513.5" cy="96.2" r="2.45" fill="#e3c435" stroke="#0002" stroke-width="0.5"/>
<circle cx="537.0" cy="101.9" r="2.45" fill="#e3c435" stroke="#0002" stroke-width="0.5"/>
<circle cx="434.4" cy="105.1" r="2.45" fill="#e3c435" stroke="#0002" stroke-width="0.5"/>
<circle cx="414.2" cy="78.9" r="2.45" fill="#5dd3f8" stroke="#0002" stroke-width="0.5"/>
<circle cx="444.6" cy="64.6" r="2.45" fill="#5dd3f8" stroke="#0002" stroke-width="0.5"/>
<circle cx="426.1" cy="73.8" r="2.45" fill="#5dd3f8" stroke="#0002" stroke-width="0.5"/>
<circle cx="431.5" cy="86.8" r="2.45" fill="#5dd3f8" stroke="#0002" stroke-width="0.5"/>
<circle cx="434.7" cy="84.8" r="2.45" fill="#5dd3f8" stroke="#0002" stroke-width="0.5"/>
<circle cx="439.0" cy="83.3" r="2.45" fill="#5dd3f8" stroke="#0002" stroke-width="0.5"/>
<circle cx="432.3" cy="89.8" r="2.45" fill="#5dd3f8" stroke="#0002" stroke-width="0.5"/>
<circle cx="436.1" cy="88.6" r="2.45" fill="#5dd3f8" stroke="#0002" stroke-width="0.5"/>
<circle cx="443.6" cy="89.0" r="2.45" fill="#5dd3f8" stroke="#0002" stroke-width="0.5"/>
<circle cx="446.2" cy="88.2" r="2.45" fill="#5dd3f8" stroke="#0002" stroke-width="0.5"/>
<circle cx="456.6" cy="91.6" r="2.45" fill="#5dd3f8" stroke="#0002" stroke-width="0.5"/>
<circle cx="441.9" cy="93.5" r="2.45" fill="#5dd3f8" stroke="#0002" stroke-width="0.5"/>
<circle cx="430.4" cy="94.9" r="2.45" fill="#5dd3f8" stroke="#0002" stroke-width="0.5"/>
<circle cx="449.4" cy="95.2" r="2.45" fill="#5dd3f8" stroke="#0002" stroke-width="0.5"/>
<circle cx="451.2" cy="109.8" r="2.45" fill="#5dd3f8" stroke="#0002" stroke-width="0.5"/>
<circle cx="454.1" cy="108.4" r="2.45" fill="#5dd3f8" stroke="#0002" stroke-width="0.5"/>
<circle cx="468.5" cy="85.1" r="2.45" fill="#5dd3f8" stroke="#0002" stroke-width="0.5"/>
<circle cx="497.7" cy="86.8" r="2.45" fill="#5dd3f8" stroke="#0002" stroke-width="0.5"/>
<circle cx="483.7" cy="92.9" r="2.45" fill="#5dd3f8" stroke="#0002" stroke-width="0.5"/>
<circle cx="490.9" cy="98.7" r="2.45" fill="#5dd3f8" stroke="#0002" stroke-width="0.5"/>
<circle cx="496.5" cy="99.1" r="2.45" fill="#5dd3f8" stroke="#0002" stroke-width="0.5"/>
<circle cx="469.4" cy="99.5" r="2.45" fill="#5dd3f8" stroke="#0002" stroke-width="0.5"/>
<circle cx="469.4" cy="101.5" r="2.45" fill="#5dd3f8" stroke="#0002" stroke-width="0.5"/>
<circle cx="467.3" cy="107.2" r="2.45" fill="#5dd3f8" stroke="#0002" stroke-width="0.5"/>
<circle cx="472.2" cy="110.1" r="2.45" fill="#5dd3f8" stroke="#0002" stroke-width="0.5"/>
<circle cx="478.4" cy="106.4" r="2.45" fill="#5dd3f8" stroke="#0002" stroke-width="0.5"/>
<circle cx="484.1" cy="106.0" r="2.45" fill="#5dd3f8" stroke="#0002" stroke-width="0.5"/>
<circle cx="478.8" cy="114.2" r="2.45" fill="#5dd3f8" stroke="#0002" stroke-width="0.5"/>
<circle cx="482.1" cy="113.4" r="2.45" fill="#5dd3f8" stroke="#0002" stroke-width="0.5"/>
<circle cx="494.9" cy="120.8" r="2.45" fill="#5dd3f8" stroke="#0002" stroke-width="0.5"/>
<circle cx="522.6" cy="92.9" r="2.45" fill="#5dd3f8" stroke="#0002" stroke-width="0.5"/>
<circle cx="530.4" cy="93.7" r="2.45" fill="#5dd3f8" stroke="#0002" stroke-width="0.5"/>
<circle cx="541.9" cy="96.2" r="2.45" fill="#5dd3f8" stroke="#0002" stroke-width="0.5"/>
<circle cx="517.2" cy="97.4" r="2.45" fill="#5dd3f8" stroke="#0002" stroke-width="0.5"/>
<circle cx="542.3" cy="100.7" r="2.45" fill="#5dd3f8" stroke="#0002" stroke-width="0.5"/>
<circle cx="531.2" cy="102.3" r="2.45" fill="#5dd3f8" stroke="#0002" stroke-width="0.5"/>
<circle cx="525.0" cy="104.4" r="2.45" fill="#5dd3f8" stroke="#0002" stroke-width="0.5"/>
<circle cx="521.3" cy="108.1" r="2.45" fill="#5dd3f8" stroke="#0002" stroke-width="0.5"/>
<circle cx="535.3" cy="108.5" r="2.45" fill="#5dd3f8" stroke="#0002" stroke-width="0.5"/>
<circle cx="539.0" cy="109.7" r="2.45" fill="#5dd3f8" stroke="#0002" stroke-width="0.5"/>
<circle cx="541.5" cy="104.8" r="2.45" fill="#5dd3f8" stroke="#0002" stroke-width="0.5"/>
<circle cx="537.8" cy="106.4" r="2.45" fill="#5dd3f8" stroke="#0002" stroke-width="0.5"/>
<circle cx="558.0" cy="93.5" r="2.45" fill="#5dd3f8" stroke="#0002" stroke-width="0.5"/>
<circle cx="552.8" cy="103.5" r="2.45" fill="#5dd3f8" stroke="#0002" stroke-width="0.5"/>
<circle cx="437.2" cy="90.8" r="2.45" fill="#5dd3f8" stroke="#0002" stroke-width="0.5"/>
<circle cx="391.6" cy="63.0" r="2.45" fill="#1414f5" stroke="#0002" stroke-width="0.5"/>
<circle cx="377.6" cy="73.2" r="2.45" fill="#1414f5" stroke="#0002" stroke-width="0.5"/>
<circle cx="392.1" cy="72.4" r="2.45" fill="#1414f5" stroke="#0002" stroke-width="0.5"/>
<circle cx="401.3" cy="71.1" r="2.45" fill="#1414f5" stroke="#0002" stroke-width="0.5"/>
<circle cx="409.5" cy="77.5" r="2.45" fill="#1414f5" stroke="#0002" stroke-width="0.5"/>
<circle cx="410.2" cy="89.2" r="2.45" fill="#1414f5" stroke="#0002" stroke-width="0.5"/>
<circle cx="443.6" cy="57.3" r="2.45" fill="#1414f5" stroke="#0002" stroke-width="0.5"/>
<circle cx="436.1" cy="73.2" r="2.45" fill="#1414f5" stroke="#0002" stroke-width="0.5"/>
<circle cx="459.3" cy="80.2" r="2.45" fill="#1414f5" stroke="#0002" stroke-width="0.5"/>
<circle cx="442.0" cy="85.2" r="2.45" fill="#1414f5" stroke="#0002" stroke-width="0.5"/>
<circle cx="450.5" cy="91.7" r="2.45" fill="#1414f5" stroke="#0002" stroke-width="0.5"/>
<circle cx="445.2" cy="96.0" r="2.45" fill="#1414f5" stroke="#0002" stroke-width="0.5"/>
<circle cx="425.7" cy="100.1" r="2.45" fill="#1414f5" stroke="#0002" stroke-width="0.5"/>
<circle cx="458.0" cy="103.5" r="2.45" fill="#1414f5" stroke="#0002" stroke-width="0.5"/>
<circle cx="467.3" cy="80.2" r="2.45" fill="#1414f5" stroke="#0002" stroke-width="0.5"/>
<circle cx="487.8" cy="92.9" r="2.45" fill="#1414f5" stroke="#0002" stroke-width="0.5"/>
<circle cx="493.6" cy="91.7" r="2.45" fill="#1414f5" stroke="#0002" stroke-width="0.5"/>
<circle cx="486.2" cy="100.7" r="2.45" fill="#1414f5" stroke="#0002" stroke-width="0.5"/>
<circle cx="487.4" cy="111.8" r="2.45" fill="#1414f5" stroke="#0002" stroke-width="0.5"/>
<circle cx="485.8" cy="115.0" r="2.45" fill="#1414f5" stroke="#0002" stroke-width="0.5"/>
<circle cx="466.1" cy="119.5" r="2.45" fill="#1414f5" stroke="#0002" stroke-width="0.5"/>
<circle cx="500.0" cy="110.3" r="2.45" fill="#1414f5" stroke="#0002" stroke-width="0.5"/>
<circle cx="534.5" cy="100.3" r="2.45" fill="#1414f5" stroke="#0002" stroke-width="0.5"/>
<circle cx="529.2" cy="118.5" r="2.45" fill="#1414f5" stroke="#0002" stroke-width="0.5"/>
<circle cx="548.5" cy="117.3" r="2.45" fill="#1414f5" stroke="#0002" stroke-width="0.5"/>
<circle cx="538.4" cy="124.5" r="2.45" fill="#1414f5" stroke="#0002" stroke-width="0.5"/>
<circle cx="472.4" cy="140.2" r="2.45" fill="#1414f5" stroke="#0002" stroke-width="0.5"/>
<circle cx="497.0" cy="138.3" r="2.45" fill="#1414f5" stroke="#0002" stroke-width="0.5"/>
<circle cx="524.9" cy="131.3" r="2.45" fill="#1414f5" stroke="#0002" stroke-width="0.5"/>
<circle cx="520.5" cy="139.6" r="2.45" fill="#1414f5" stroke="#0002" stroke-width="0.5"/>
<circle cx="524.9" cy="142.4" r="2.45" fill="#1414f5" stroke="#0002" stroke-width="0.5"/>
<circle cx="510.8" cy="149.9" r="2.45" fill="#1414f5" stroke="#0002" stroke-width="0.5"/>
<circle cx="546.4" cy="142.5" r="2.45" fill="#1414f5" stroke="#0002" stroke-width="0.5"/>
<circle cx="541.5" cy="148.0" r="2.45" fill="#1414f5" stroke="#0002" stroke-width="0.5"/>
<circle cx="539.4" cy="152.6" r="2.45" fill="#1414f5" stroke="#0002" stroke-width="0.5"/>
<circle cx="556.1" cy="129.2" r="2.45" fill="#1414f5" stroke="#0002" stroke-width="0.5"/>
<circle cx="560.5" cy="137.2" r="2.45" fill="#1414f5" stroke="#0002" stroke-width="0.5"/>
<circle cx="540.5" cy="161.2" r="2.45" fill="#1414f5" stroke="#0002" stroke-width="0.5"/>
<circle cx="552.7" cy="165.1" r="2.45" fill="#1414f5" stroke="#0002" stroke-width="0.5"/>
<circle cx="566.7" cy="180.7" r="2.45" fill="#1414f5" stroke="#0002" stroke-width="0.5"/>
<circle cx="453.5" cy="125.0" r="2.45" fill="#9534c6" stroke="#0002" stroke-width="0.5"/>
<circle cx="468.1" cy="104.4" r="2.45" fill="#9534c6" stroke="#0002" stroke-width="0.5"/>
<circle cx="481.3" cy="119.8" r="2.45" fill="#9534c6" stroke="#0002" stroke-width="0.5"/>
<circle cx="549.4" cy="110.1" r="2.45" fill="#9534c6" stroke="#0002" stroke-width="0.5"/>
<circle cx="536.6" cy="118.5" r="2.45" fill="#9534c6" stroke="#0002" stroke-width="0.5"/>
<circle cx="542.0" cy="126.0" r="2.45" fill="#9534c6" stroke="#0002" stroke-width="0.5"/>
<circle cx="488.4" cy="129.2" r="2.45" fill="#9534c6" stroke="#0002" stroke-width="0.5"/>
<circle cx="476.4" cy="136.2" r="2.45" fill="#9534c6" stroke="#0002" stroke-width="0.5"/>
<circle cx="482.1" cy="143.3" r="2.45" fill="#9534c6" stroke="#0002" stroke-width="0.5"/>
<circle cx="486.0" cy="141.1" r="2.45" fill="#9534c6" stroke="#0002" stroke-width="0.5"/>
<circle cx="495.6" cy="143.3" r="2.45" fill="#9534c6" stroke="#0002" stroke-width="0.5"/>
<circle cx="538.4" cy="128.8" r="2.45" fill="#9534c6" stroke="#0002" stroke-width="0.5"/>
<circle cx="552.3" cy="129.7" r="2.45" fill="#9534c6" stroke="#0002" stroke-width="0.5"/>
<circle cx="512.4" cy="129.7" r="2.45" fill="#9534c6" stroke="#0002" stroke-width="0.5"/>
<circle cx="511.9" cy="132.6" r="2.45" fill="#9534c6" stroke="#0002" stroke-width="0.5"/>
<circle cx="509.6" cy="134.9" r="2.45" fill="#9534c6" stroke="#0002" stroke-width="0.5"/>
<circle cx="534.4" cy="137.5" r="2.45" fill="#9534c6" stroke="#0002" stroke-width="0.5"/>
<circle cx="551.9" cy="136.0" r="2.45" fill="#9534c6" stroke="#0002" stroke-width="0.5"/>
<circle cx="552.2" cy="139.5" r="2.45" fill="#9534c6" stroke="#0002" stroke-width="0.5"/>
<circle cx="504.2" cy="145.6" r="2.45" fill="#9534c6" stroke="#0002" stroke-width="0.5"/>
<circle cx="511.7" cy="141.9" r="2.45" fill="#9534c6" stroke="#0002" stroke-width="0.5"/>
<circle cx="524.5" cy="147.6" r="2.45" fill="#9534c6" stroke="#0002" stroke-width="0.5"/>
<circle cx="520.7" cy="151.6" r="2.45" fill="#9534c6" stroke="#0002" stroke-width="0.5"/>
<circle cx="549.9" cy="152.6" r="2.45" fill="#9534c6" stroke="#0002" stroke-width="0.5"/>
<circle cx="566.4" cy="127.4" r="2.45" fill="#9534c6" stroke="#0002" stroke-width="0.5"/>
<circle cx="568.8" cy="130.7" r="2.45" fill="#9534c6" stroke="#0002" stroke-width="0.5"/>
<circle cx="558.5" cy="130.2" r="2.45" fill="#9534c6" stroke="#0002" stroke-width="0.5"/>
<circle cx="557.5" cy="134.4" r="2.45" fill="#9534c6" stroke="#0002" stroke-width="0.5"/>
<circle cx="560.8" cy="133.9" r="2.45" fill="#9534c6" stroke="#0002" stroke-width="0.5"/>
<circle cx="558.6" cy="140.9" r="2.45" fill="#9534c6" stroke="#0002" stroke-width="0.5"/>
<circle cx="566.9" cy="135.4" r="2.45" fill="#9534c6" stroke="#0002" stroke-width="0.5"/>
<circle cx="569.2" cy="138.0" r="2.45" fill="#9534c6" stroke="#0002" stroke-width="0.5"/>
<circle cx="571.2" cy="143.0" r="2.45" fill="#9534c6" stroke="#0002" stroke-width="0.5"/>
<circle cx="575.8" cy="143.3" r="2.45" fill="#9534c6" stroke="#0002" stroke-width="0.5"/>
<circle cx="579.2" cy="146.8" r="2.45" fill="#9534c6" stroke="#0002" stroke-width="0.5"/>
<circle cx="587.0" cy="144.0" r="2.45" fill="#9534c6" stroke="#0002" stroke-width="0.5"/>
<circle cx="594.2" cy="144.0" r="2.45" fill="#9534c6" stroke="#0002" stroke-width="0.5"/>
<circle cx="591.0" cy="147.2" r="2.45" fill="#9534c6" stroke="#0002" stroke-width="0.5"/>
<circle cx="585.5" cy="149.5" r="2.45" fill="#9534c6" stroke="#0002" stroke-width="0.5"/>
<circle cx="560.2" cy="148.2" r="2.45" fill="#9534c6" stroke="#0002" stroke-width="0.5"/>
<circle cx="566.5" cy="148.3" r="2.45" fill="#9534c6" stroke="#0002" stroke-width="0.5"/>
<circle cx="577.5" cy="153.2" r="2.45" fill="#9534c6" stroke="#0002" stroke-width="0.5"/>
<circle cx="582.8" cy="159.5" r="2.45" fill="#9534c6" stroke="#0002" stroke-width="0.5"/>
<circle cx="550.9" cy="162.5" r="2.45" fill="#9534c6" stroke="#0002" stroke-width="0.5"/>
<circle cx="566.4" cy="168.7" r="2.45" fill="#9534c6" stroke="#0002" stroke-width="0.5"/>
<rect x="640.90" y="15.30" width="9.8" height="8.3" fill="#6ea555"/>
<text x="652.00" y="22.30" font-size="7.6" text-anchor="start" fill="#333" font-weight="normal" textLength="32.2" lengthAdjust="spacingAndGlyphs">Argentina</text>
<rect x="640.90" y="26.13" width="9.8" height="8.3" fill="#1414f5"/>
<text x="652.00" y="33.13" font-size="7.6" text-anchor="start" fill="#333" font-weight="normal" textLength="17.6" lengthAdjust="spacingAndGlyphs">Brazil</text>
<rect x="640.90" y="36.96" width="9.8" height="8.3" fill="#bb1a16"/>
<text x="652.00" y="43.96" font-size="7.6" text-anchor="start" fill="#333" font-weight="normal" textLength="24.7" lengthAdjust="spacingAndGlyphs">Canada</text>
<rect x="640.90" y="47.79" width="9.8" height="8.3" fill="#e3c435"/>
<text x="652.00" y="54.79" font-size="7.6" text-anchor="start" fill="#333" font-weight="normal" textLength="18.6" lengthAdjust="spacingAndGlyphs">China</text>
<rect x="640.90" y="58.62" width="9.8" height="8.3" fill="#5dd3f8"/>
<text x="652.00" y="65.62" font-size="7.6" text-anchor="start" fill="#333" font-weight="normal" textLength="16.5" lengthAdjust="spacingAndGlyphs">India</text>
<rect x="640.90" y="69.45" width="9.8" height="8.3" fill="#9534c6"/>
<text x="652.00" y="76.45" font-size="7.6" text-anchor="start" fill="#333" font-weight="normal" textLength="30.3" lengthAdjust="spacingAndGlyphs">Paraguay</text>
<rect x="640.90" y="80.28" width="9.8" height="8.3" fill="#ef9029"/>
<text x="652.00" y="87.28" font-size="7.6" text-anchor="start" fill="#333" font-weight="normal" textLength="14.1" lengthAdjust="spacingAndGlyphs">USA</text>
<text x="13.40" y="228.40" font-size="15" text-anchor="start" fill="#000" font-weight="bold" letter-spacing="0.6">c)</text>
<defs><radialGradient id="gA" cx="0.4" cy="0.38" r="0.62" fx="0.35" fy="0.3"><stop offset="0" stop-color="#c4f5b0"/><stop offset="0.45" stop-color="#96e47e"/><stop offset="0.85" stop-color="#96e47e"/><stop offset="1" stop-color="#6cbc58"/></radialGradient><radialGradient id="gB" cx="0.4" cy="0.38" r="0.62" fx="0.35" fy="0.3"><stop offset="0" stop-color="#4a4aff"/><stop offset="0.45" stop-color="#0808fa"/><stop offset="0.85" stop-color="#0808fa"/><stop offset="1" stop-color="#0000c0"/></radialGradient><radialGradient id="gC" cx="0.4" cy="0.38" r="0.62" fx="0.35" fy="0.3"><stop offset="0" stop-color="#ff6a6a"/><stop offset="0.45" stop-color="#f81414"/><stop offset="0.85" stop-color="#f81414"/><stop offset="1" stop-color="#c00000"/></radialGradient><radialGradient id="gH" cx="0.4" cy="0.38" r="0.62" fx="0.35" fy="0.3"><stop offset="0" stop-color="#ffffa0"/><stop offset="0.45" stop-color="#f8f020"/><stop offset="0.85" stop-color="#f8f020"/><stop offset="1" stop-color="#d0c000"/></radialGradient><radialGradient id="gI" cx="0.4" cy="0.38" r="0.62" fx="0.35" fy="0.3"><stop offset="0" stop-color="#b0f4ff"/><stop offset="0.45" stop-color="#58dcfa"/><stop offset="0.85" stop-color="#58dcfa"/><stop offset="1" stop-color="#2cb4dc"/></radialGradient><radialGradient id="gP" cx="0.4" cy="0.38" r="0.62" fx="0.35" fy="0.3"><stop offset="0" stop-color="#eea0ff"/><stop offset="0.45" stop-color="#d452f2"/><stop offset="0.85" stop-color="#d452f2"/><stop offset="1" stop-color="#a828cc"/></radialGradient><radialGradient id="gU" cx="0.4" cy="0.38" r="0.62" fx="0.35" fy="0.3"><stop offset="0" stop-color="#ffb070"/><stop offset="0.45" stop-color="#f28a26"/><stop offset="0.85" stop-color="#f28a26"/><stop offset="1" stop-color="#cc6408"/></radialGradient><radialGradient id="gs" cx="0.5" cy="0.5" r="0.5"><stop offset="0" stop-color="#fcfcfc"/><stop offset="0.75" stop-color="#f8f8f8"/><stop offset="0.96" stop-color="#f0f0f0"/><stop offset="1" stop-color="#ececec"/></radialGradient><linearGradient id="gw" x1="0" y1="0" x2="1" y2="0"><stop offset="0" stop-color="#fff"/><stop offset="0.7" stop-color="#fcfcfc"/><stop offset="1" stop-color="#f5f5f5"/></linearGradient></defs>
<path d="M158.3,260.5 L237.5,272.8 L222.8,376.4 L152.8,343.9 Z" fill="url(#gw)"/>
<ellipse cx="146.1" cy="323.6" rx="50" ry="46" fill="url(#gs)" stroke="#ececec" stroke-width="0.6"/>
<line x1="71.00" y1="262.40" x2="157.80" y2="261.00" stroke="#a0a0a0" stroke-width="0.8" />
<line x1="71.00" y1="262.40" x2="76.30" y2="364.50" stroke="#a0a0a0" stroke-width="0.8" />
<line x1="158.80" y1="260.60" x2="237.50" y2="272.80" stroke="#a0a0a0" stroke-width="0.8" />
<line x1="237.50" y1="272.80" x2="222.80" y2="376.40" stroke="#a0a0a0" stroke-width="0.8" />
<line x1="76.30" y1="364.50" x2="130.90" y2="418.80" stroke="#a0a0a0" stroke-width="0.8" />
<line x1="130.90" y1="418.80" x2="217.60" y2="381.50" stroke="#a0a0a0" stroke-width="0.8" />
<text x="69.30" y="262.00" font-size="5.8" text-anchor="middle" fill="#555" font-weight="normal" >8</text>
<line x1="70.10" y1="261.93" x2="70.10" y2="263.63" stroke="#aaa" stroke-width="0.5" />
<text x="83.60" y="262.00" font-size="5.8" text-anchor="middle" fill="#555" font-weight="normal" >6</text>
<line x1="84.40" y1="261.70" x2="84.40" y2="263.40" stroke="#aaa" stroke-width="0.5" />
<text x="95.60" y="262.00" font-size="5.8" text-anchor="middle" fill="#555" font-weight="normal" >4</text>
<line x1="96.40" y1="261.51" x2="96.40" y2="263.21" stroke="#aaa" stroke-width="0.5" />
<text x="107.50" y="262.00" font-size="5.8" text-anchor="middle" fill="#555" font-weight="normal" >2</text>
<line x1="108.30" y1="261.32" x2="108.30" y2="263.02" stroke="#aaa" stroke-width="0.5" />
<text x="118.60" y="262.00" font-size="5.8" text-anchor="middle" fill="#555" font-weight="normal" >0</text>
<line x1="119.40" y1="261.14" x2="119.40" y2="262.84" stroke="#aaa" stroke-width="0.5" />
<text x="128.90" y="262.00" font-size="5.8" text-anchor="middle" fill="#555" font-weight="normal" >2</text>
<line x1="129.70" y1="260.97" x2="129.70" y2="262.67" stroke="#aaa" stroke-width="0.5" />
<text x="139.10" y="262.00" font-size="5.8" text-anchor="middle" fill="#555" font-weight="normal" >4</text>
<line x1="139.90" y1="260.81" x2="139.90" y2="262.51" stroke="#aaa" stroke-width="0.5" />
<text x="148.90" y="262.00" font-size="5.8" text-anchor="middle" fill="#555" font-weight="normal" >6</text>
<line x1="149.70" y1="260.65" x2="149.70" y2="262.35" stroke="#aaa" stroke-width="0.5" />
<text x="171.90" y="263.00" font-size="5.8" text-anchor="middle" fill="#555" font-weight="normal" >4</text>
<text x="183.10" y="264.60" font-size="5.8" text-anchor="middle" fill="#555" font-weight="normal" >2</text>
<text x="193.60" y="266.40" font-size="5.8" text-anchor="middle" fill="#555" font-weight="normal" >0</text>
<text x="207.00" y="268.40" font-size="5.8" text-anchor="middle" fill="#555" font-weight="normal" >2</text>
<text x="221.50" y="270.80" font-size="5.8" text-anchor="middle" fill="#555" font-weight="normal" >4</text>
<text x="238.60" y="273.00" font-size="5.8" text-anchor="middle" fill="#555" font-weight="normal" >6</text>
<text x="70.23" y="274.60" font-size="5.6" text-anchor="middle" fill="#555" font-weight="normal" >4</text>
<text x="70.81" y="286.30" font-size="5.6" text-anchor="middle" fill="#555" font-weight="normal" >3</text>
<text x="71.35" y="297.00" font-size="5.6" text-anchor="middle" fill="#555" font-weight="normal" >2</text>
<text x="71.95" y="309.00" font-size="5.6" text-anchor="middle" fill="#555" font-weight="normal" >1</text>
<text x="72.52" y="320.50" font-size="5.6" text-anchor="middle" fill="#555" font-weight="normal" >0</text>
<text x="73.10" y="332.00" font-size="5.6" text-anchor="middle" fill="#555" font-weight="normal" >-1</text>
<text x="73.67" y="343.50" font-size="5.6" text-anchor="middle" fill="#555" font-weight="normal" >-2</text>
<text x="74.25" y="355.00" font-size="5.6" text-anchor="middle" fill="#555" font-weight="normal" >-3</text>
<text x="240.20" y="277.00" font-size="6.0" text-anchor="middle" fill="#555" font-weight="normal" >5</text>
<line x1="236.00" y1="275.00" x2="237.60" y2="275.00" stroke="#aaa" stroke-width="0.5" />
<text x="236.80" y="289.80" font-size="6.0" text-anchor="middle" fill="#555" font-weight="normal" >4</text>
<line x1="232.60" y1="287.80" x2="234.20" y2="287.80" stroke="#aaa" stroke-width="0.5" />
<text x="235.20" y="301.20" font-size="6.0" text-anchor="middle" fill="#555" font-weight="normal" >3</text>
<line x1="231.00" y1="299.20" x2="232.60" y2="299.20" stroke="#aaa" stroke-width="0.5" />
<text x="233.40" y="312.40" font-size="6.0" text-anchor="middle" fill="#555" font-weight="normal" >2</text>
<line x1="229.20" y1="310.40" x2="230.80" y2="310.40" stroke="#aaa" stroke-width="0.5" />
<text x="231.60" y="323.00" font-size="6.0" text-anchor="middle" fill="#555" font-weight="normal" >1</text>
<line x1="227.40" y1="321.00" x2="229.00" y2="321.00" stroke="#aaa" stroke-width="0.5" />
<text x="229.80" y="334.40" font-size="6.0" text-anchor="middle" fill="#555" font-weight="normal" >0</text>
<line x1="225.60" y1="332.40" x2="227.20" y2="332.40" stroke="#aaa" stroke-width="0.5" />
<text x="229.50" y="345.00" font-size="6.0" text-anchor="middle" fill="#555" font-weight="normal" >-1</text>
<line x1="225.30" y1="343.00" x2="226.90" y2="343.00" stroke="#aaa" stroke-width="0.5" />
<text x="227.60" y="355.50" font-size="6.0" text-anchor="middle" fill="#555" font-weight="normal" >-2</text>
<line x1="223.40" y1="353.50" x2="225.00" y2="353.50" stroke="#aaa" stroke-width="0.5" />
<text x="225.60" y="365.50" font-size="6.0" text-anchor="middle" fill="#555" font-weight="normal" >-3</text>
<line x1="221.40" y1="363.50" x2="223.00" y2="363.50" stroke="#aaa" stroke-width="0.5" />
<text x="224.00" y="375.50" font-size="6.0" text-anchor="middle" fill="#555" font-weight="normal" >-4</text>
<line x1="219.80" y1="373.50" x2="221.40" y2="373.50" stroke="#aaa" stroke-width="0.5" />
<text x="81.50" y="376.20" font-size="5.8" text-anchor="middle" fill="#555" font-weight="normal" >-4</text>
<text x="89.40" y="383.50" font-size="5.8" text-anchor="middle" fill="#555" font-weight="normal" >-2</text>
<text x="98.10" y="392.00" font-size="5.8" text-anchor="middle" fill="#555" font-weight="normal" >0</text>
<text x="107.30" y="401.40" font-size="5.8" text-anchor="middle" fill="#555" font-weight="normal" >2</text>
<text x="118.30" y="411.90" font-size="5.8" text-anchor="middle" fill="#555" font-weight="normal" >4</text>
<text x="133.00" y="423.50" font-size="5.8" text-anchor="middle" fill="#555" font-weight="normal" >68</text>
<text x="148.00" y="417.70" font-size="5.8" text-anchor="middle" fill="#555" font-weight="normal" >6</text>
<text x="161.20" y="411.90" font-size="5.8" text-anchor="middle" fill="#555" font-weight="normal" >4</text>
<text x="172.50" y="407.20" font-size="5.8" text-anchor="middle" fill="#555" font-weight="normal" >2</text>
<text x="183.50" y="401.40" font-size="5.8" text-anchor="middle" fill="#555" font-weight="normal" >0</text>
<text x="195.30" y="396.10" font-size="5.8" text-anchor="middle" fill="#555" font-weight="normal" >-2</text>
<text x="205.00" y="392.00" font-size="5.8" text-anchor="middle" fill="#555" font-weight="normal" >-4</text>
<text x="213.70" y="387.50" font-size="5.8" text-anchor="middle" fill="#555" font-weight="normal" >-5</text>
<line x1="152.80" y1="343.90" x2="158.30" y2="258.00" stroke="#999" stroke-width="1.3" />
<line x1="152.80" y1="343.90" x2="74.00" y2="364.60" stroke="#999" stroke-width="1.3" />
<line x1="152.80" y1="343.90" x2="220.00" y2="379.40" stroke="#999" stroke-width="1.3" />
<path d="M158.7,248.2 L162.6,260.6 Q158.4,262 155.0,260.4 Z" fill="#9a9a9a"/>
<path d="M61.3,367.7 L74.6,360.2 Q77,364.4 76.3,368.8 Z" fill="#9a9a9a"/>
<path d="M231.2,385.8 L217.4,384.4 Q216.6,379 220.6,374.8 Z" fill="#9a9a9a"/>
<circle cx="139.1" cy="283.9" r="2.45" fill="url(#gB)"/>
<circle cx="136.4" cy="298.6" r="2.45" fill="url(#gB)"/>
<circle cx="149.8" cy="292.6" r="2.45" fill="url(#gB)"/>
<circle cx="143.8" cy="314.0" r="2.45" fill="url(#gB)"/>
<circle cx="137.7" cy="311.6" r="2.45" fill="url(#gB)"/>
<circle cx="156.3" cy="297.6" r="2.45" fill="url(#gB)"/>
<circle cx="157.1" cy="308.6" r="2.45" fill="url(#gB)"/>
<circle cx="165.7" cy="305.7" r="2.45" fill="url(#gB)"/>
<circle cx="164.2" cy="313.9" r="2.45" fill="url(#gB)"/>
<circle cx="141.9" cy="316.0" r="2.45" fill="url(#gB)"/>
<circle cx="149.9" cy="319.2" r="2.45" fill="url(#gB)"/>
<circle cx="147.5" cy="319.5" r="2.45" fill="url(#gB)"/>
<circle cx="156.1" cy="312.0" r="2.45" fill="url(#gB)"/>
<circle cx="162.4" cy="321.4" r="2.45" fill="url(#gB)"/>
<circle cx="168.5" cy="323.3" r="2.45" fill="url(#gB)"/>
<circle cx="163.8" cy="326.4" r="2.45" fill="url(#gB)"/>
<circle cx="158.6" cy="344.4" r="2.45" fill="url(#gB)"/>
<circle cx="158.9" cy="345.8" r="2.45" fill="url(#gB)"/>
<circle cx="163.7" cy="305.5" r="2.45" fill="url(#gB)"/>
<circle cx="111.9" cy="306.9" r="2.45" fill="url(#gU)"/>
<circle cx="117.5" cy="305.0" r="2.45" fill="url(#gU)"/>
<circle cx="110.0" cy="314.1" r="2.45" fill="url(#gU)"/>
<circle cx="114.7" cy="313.1" r="2.45" fill="url(#gU)"/>
<circle cx="109.6" cy="318.9" r="2.45" fill="url(#gU)"/>
<circle cx="111.9" cy="321.7" r="2.45" fill="url(#gU)"/>
<circle cx="116.1" cy="320.3" r="2.45" fill="url(#gU)"/>
<circle cx="122.2" cy="318.0" r="2.45" fill="url(#gU)"/>
<circle cx="125.0" cy="316.1" r="2.45" fill="url(#gU)"/>
<circle cx="120.4" cy="322.2" r="2.45" fill="url(#gU)"/>
<circle cx="117.1" cy="325.0" r="2.45" fill="url(#gU)"/>
<circle cx="121.3" cy="326.4" r="2.45" fill="url(#gU)"/>
<circle cx="124.1" cy="324.1" r="2.45" fill="url(#gU)"/>
<circle cx="126.9" cy="326.4" r="2.45" fill="url(#gU)"/>
<circle cx="130.7" cy="326.0" r="2.45" fill="url(#gU)"/>
<circle cx="132.6" cy="318.5" r="2.45" fill="url(#gU)"/>
<circle cx="133.5" cy="322.2" r="2.45" fill="url(#gU)"/>
<circle cx="136.8" cy="326.9" r="2.45" fill="url(#gU)"/>
<circle cx="111.0" cy="332.5" r="2.45" fill="url(#gU)"/>
<circle cx="114.7" cy="333.0" r="2.45" fill="url(#gU)"/>
<circle cx="121.8" cy="334.9" r="2.45" fill="url(#gU)"/>
<circle cx="121.8" cy="338.6" r="2.45" fill="url(#gU)"/>
<circle cx="126.9" cy="333.9" r="2.45" fill="url(#gU)"/>
<circle cx="129.7" cy="335.4" r="2.45" fill="url(#gU)"/>
<circle cx="134.9" cy="333.0" r="2.45" fill="url(#gU)"/>
<circle cx="141.5" cy="338.6" r="2.45" fill="url(#gU)"/>
<circle cx="105.3" cy="352.4" r="2.45" fill="url(#gU)"/>
<circle cx="133.2" cy="292.8" r="2.45" fill="url(#gC)"/>
<circle cx="136.7" cy="292.4" r="2.45" fill="url(#gC)"/>
<circle cx="134.4" cy="295.9" r="2.45" fill="url(#gC)"/>
<circle cx="130.8" cy="297.9" r="2.45" fill="url(#gC)"/>
<circle cx="123.2" cy="299.0" r="2.45" fill="url(#gC)"/>
<circle cx="141.9" cy="299.8" r="2.45" fill="url(#gC)"/>
<circle cx="144.5" cy="302.1" r="2.45" fill="url(#gC)"/>
<circle cx="139.3" cy="302.3" r="2.45" fill="url(#gC)"/>
<circle cx="146.9" cy="293.2" r="2.45" fill="url(#gC)"/>
<circle cx="128.3" cy="305.0" r="2.45" fill="url(#gC)"/>
<circle cx="131.2" cy="306.2" r="2.45" fill="url(#gC)"/>
<circle cx="134.2" cy="304.9" r="2.45" fill="url(#gC)"/>
<circle cx="140.3" cy="310.5" r="2.45" fill="url(#gC)"/>
<circle cx="126.9" cy="311.2" r="2.45" fill="url(#gC)"/>
<circle cx="124.1" cy="311.2" r="2.45" fill="url(#gC)"/>
<circle cx="120.4" cy="313.9" r="2.45" fill="url(#gC)"/>
<circle cx="130.1" cy="310.9" r="2.45" fill="url(#gC)"/>
<circle cx="127.9" cy="317.0" r="2.45" fill="url(#gC)"/>
<circle cx="126.9" cy="322.7" r="2.45" fill="url(#gC)"/>
<circle cx="142.8" cy="295.1" r="2.45" fill="url(#gA)"/>
<circle cx="147.3" cy="297.9" r="2.45" fill="url(#gA)"/>
<circle cx="151.2" cy="295.4" r="2.45" fill="url(#gA)"/>
<circle cx="153.4" cy="298.8" r="2.45" fill="url(#gA)"/>
<circle cx="138.1" cy="304.5" r="2.45" fill="url(#gA)"/>
<circle cx="146.8" cy="305.1" r="2.45" fill="url(#gA)"/>
<circle cx="150.7" cy="304.5" r="2.45" fill="url(#gA)"/>
<circle cx="144.7" cy="309.3" r="2.45" fill="url(#gA)"/>
<circle cx="149.9" cy="309.7" r="2.45" fill="url(#gA)"/>
<circle cx="134.2" cy="310.1" r="2.45" fill="url(#gA)"/>
<circle cx="154.0" cy="305.7" r="2.45" fill="url(#gA)"/>
<circle cx="158.6" cy="301.5" r="2.45" fill="url(#gA)"/>
<circle cx="154.9" cy="302.5" r="2.45" fill="url(#gA)"/>
<circle cx="145.9" cy="309.3" r="2.45" fill="url(#gA)"/>
<circle cx="153.3" cy="311.3" r="2.45" fill="url(#gA)"/>
<circle cx="152.2" cy="314.7" r="2.45" fill="url(#gA)"/>
<circle cx="149.8" cy="300.5" r="2.45" fill="url(#gA)"/>
<circle cx="146.1" cy="304.0" r="2.45" fill="url(#gA)"/>
<circle cx="137.4" cy="308.1" r="2.45" fill="url(#gA)"/>
<circle cx="140.8" cy="313.5" r="2.45" fill="url(#gA)"/>
<circle cx="156.7" cy="303.9" r="2.45" fill="url(#gA)"/>
<circle cx="142.7" cy="306.0" r="2.45" fill="url(#gA)"/>
<circle cx="162.2" cy="309.5" r="2.45" fill="url(#gP)"/>
<circle cx="166.6" cy="310.7" r="2.45" fill="url(#gP)"/>
<circle cx="172.7" cy="310.7" r="2.45" fill="url(#gP)"/>
<circle cx="174.1" cy="312.6" r="2.45" fill="url(#gP)"/>
<circle cx="169.9" cy="313.5" r="2.45" fill="url(#gP)"/>
<circle cx="145.2" cy="325.0" r="2.45" fill="url(#gP)"/>
<circle cx="153.1" cy="330.5" r="2.45" fill="url(#gP)"/>
<circle cx="170.4" cy="315.3" r="2.45" fill="url(#gP)"/>
<circle cx="173.6" cy="317.2" r="2.45" fill="url(#gP)"/>
<circle cx="157.3" cy="316.6" r="2.45" fill="url(#gP)"/>
<circle cx="162.7" cy="316.9" r="2.45" fill="url(#gP)"/>
<circle cx="167.5" cy="318.6" r="2.45" fill="url(#gP)"/>
<circle cx="168.5" cy="320.0" r="2.45" fill="url(#gP)"/>
<circle cx="180.2" cy="318.6" r="2.45" fill="url(#gP)"/>
<circle cx="171.9" cy="324.0" r="2.45" fill="url(#gP)"/>
<circle cx="171.1" cy="327.2" r="2.45" fill="url(#gP)"/>
<circle cx="175.0" cy="327.1" r="2.45" fill="url(#gP)"/>
<circle cx="183.0" cy="324.2" r="2.45" fill="url(#gP)"/>
<circle cx="182.3" cy="329.6" r="2.45" fill="url(#gP)"/>
<circle cx="167.5" cy="331.3" r="2.45" fill="url(#gP)"/>
<circle cx="171.3" cy="332.2" r="2.45" fill="url(#gP)"/>
<circle cx="161.4" cy="331.6" r="2.45" fill="url(#gP)"/>
<circle cx="179.9" cy="325.4" r="2.45" fill="url(#gI)"/>
<circle cx="183.1" cy="326.8" r="2.45" fill="url(#gI)"/>
<circle cx="177.9" cy="328.7" r="2.45" fill="url(#gI)"/>
<circle cx="178.6" cy="332.0" r="2.45" fill="url(#gI)"/>
<circle cx="186.3" cy="331.3" r="2.45" fill="url(#gI)"/>
<circle cx="183.5" cy="335.0" r="2.45" fill="url(#gI)"/>
<circle cx="188.6" cy="337.7" r="2.45" fill="url(#gI)"/>
<circle cx="176.0" cy="335.0" r="2.45" fill="url(#gI)"/>
<circle cx="173.3" cy="338.5" r="2.45" fill="url(#gI)"/>
<circle cx="170.4" cy="337.4" r="2.45" fill="url(#gI)"/>
<circle cx="167.8" cy="339.9" r="2.45" fill="url(#gI)"/>
<circle cx="165.8" cy="342.6" r="2.45" fill="url(#gI)"/>
<circle cx="174.6" cy="340.6" r="2.45" fill="url(#gI)"/>
<circle cx="177.8" cy="341.4" r="2.45" fill="url(#gI)"/>
<circle cx="181.2" cy="341.3" r="2.45" fill="url(#gI)"/>
<circle cx="169.2" cy="342.6" r="2.45" fill="url(#gI)"/>
<circle cx="185.1" cy="337.2" r="2.45" fill="url(#gI)"/>
<circle cx="180.7" cy="334.1" r="2.45" fill="url(#gI)"/>
<circle cx="164.8" cy="349.6" r="2.45" fill="url(#gI)"/>
<circle cx="167.0" cy="352.6" r="2.45" fill="url(#gI)"/>
<circle cx="170.5" cy="353.1" r="2.45" fill="url(#gI)"/>
<circle cx="168.4" cy="349.6" r="2.45" fill="url(#gI)"/>
<circle cx="166.4" cy="355.7" r="2.45" fill="url(#gI)"/>
<circle cx="176.4" cy="348.1" r="2.45" fill="url(#gI)"/>
<circle cx="170.2" cy="341.1" r="2.45" fill="url(#gI)"/>
<circle cx="176.0" cy="332.2" r="2.45" fill="url(#gI)"/>
<circle cx="188.1" cy="334.1" r="2.45" fill="url(#gI)"/>
<circle cx="181.6" cy="336.0" r="2.45" fill="url(#gI)"/>
<circle cx="178.8" cy="336.4" r="2.45" fill="url(#gI)"/>
<circle cx="174.1" cy="335.5" r="2.45" fill="url(#gI)"/>
<circle cx="178.8" cy="339.7" r="2.45" fill="url(#gI)"/>
<circle cx="176.9" cy="343.0" r="2.45" fill="url(#gI)"/>
<circle cx="172.2" cy="341.6" r="2.45" fill="url(#gI)"/>
<circle cx="167.0" cy="346.3" r="2.45" fill="url(#gI)"/>
<circle cx="168.4" cy="355.6" r="2.45" fill="url(#gI)"/>
<circle cx="181.6" cy="330.3" r="2.45" fill="url(#gI)"/>
<circle cx="182.5" cy="333.1" r="2.45" fill="url(#gI)"/>
<circle cx="145.8" cy="321.8" r="2.45" fill="url(#gH)"/>
<circle cx="137.4" cy="340.6" r="2.45" fill="url(#gH)"/>
<circle cx="132.2" cy="343.2" r="2.45" fill="url(#gH)"/>
<circle cx="135.6" cy="344.5" r="2.45" fill="url(#gH)"/>
<circle cx="129.1" cy="348.5" r="2.45" fill="url(#gH)"/>
<circle cx="132.7" cy="347.4" r="2.45" fill="url(#gH)"/>
<circle cx="135.4" cy="350.0" r="2.45" fill="url(#gH)"/>
<circle cx="128.8" cy="352.9" r="2.45" fill="url(#gH)"/>
<circle cx="132.2" cy="352.9" r="2.45" fill="url(#gH)"/>
<circle cx="120.7" cy="355.2" r="2.45" fill="url(#gH)"/>
<circle cx="127.2" cy="357.9" r="2.45" fill="url(#gH)"/>
<circle cx="131.3" cy="357.1" r="2.45" fill="url(#gH)"/>
<circle cx="119.9" cy="359.1" r="2.45" fill="url(#gH)"/>
<circle cx="123.8" cy="358.1" r="2.45" fill="url(#gH)"/>
<circle cx="125.1" cy="361.2" r="2.45" fill="url(#gH)"/>
<circle cx="128.5" cy="361.0" r="2.45" fill="url(#gH)"/>
<circle cx="123.3" cy="363.8" r="2.45" fill="url(#gH)"/>
<circle cx="130.3" cy="364.1" r="2.45" fill="url(#gH)"/>
<circle cx="135.3" cy="352.2" r="2.45" fill="url(#gH)"/>
<circle cx="126.4" cy="355.2" r="2.45" fill="url(#gH)"/>
<circle cx="131.7" cy="350.5" r="2.45" fill="url(#gH)"/>
<text x="160.30" y="246.50" font-size="7.6" text-anchor="start" fill="#222" font-weight="normal" letter-spacing="0.36">t[3] × 1.01353</text>
<text x="8.10" y="375.00" font-size="7.6" text-anchor="start" fill="#222" font-weight="normal" letter-spacing="0.38">t[1] × 1.00374</text>
<text x="233.90" y="394.30" font-size="7.6" text-anchor="start" fill="#222" font-weight="normal" letter-spacing="0.37">t[2] × 1.00318</text>
<rect x="257.00" y="247.80" width="9.8" height="8.3" fill="#6ea555"/>
<text x="268.10" y="254.80" font-size="7.6" text-anchor="start" fill="#333" font-weight="normal" textLength="32.2" lengthAdjust="spacingAndGlyphs">Argentina</text>
<rect x="257.00" y="258.63" width="9.8" height="8.3" fill="#1414f5"/>
<text x="268.10" y="265.63" font-size="7.6" text-anchor="start" fill="#333" font-weight="normal" textLength="17.6" lengthAdjust="spacingAndGlyphs">Brazil</text>
<rect x="257.00" y="269.46" width="9.8" height="8.3" fill="#bb1a16"/>
<text x="268.10" y="276.46" font-size="7.6" text-anchor="start" fill="#333" font-weight="normal" textLength="24.7" lengthAdjust="spacingAndGlyphs">Canada</text>
<rect x="257.00" y="280.29" width="9.8" height="8.3" fill="#e3c435"/>
<text x="268.10" y="287.29" font-size="7.6" text-anchor="start" fill="#333" font-weight="normal" textLength="18.6" lengthAdjust="spacingAndGlyphs">China</text>
<rect x="257.00" y="291.12" width="9.8" height="8.3" fill="#5dd3f8"/>
<text x="268.10" y="298.12" font-size="7.6" text-anchor="start" fill="#333" font-weight="normal" textLength="16.5" lengthAdjust="spacingAndGlyphs">India</text>
<rect x="257.00" y="301.95" width="9.8" height="8.3" fill="#9534c6"/>
<text x="268.10" y="308.95" font-size="7.6" text-anchor="start" fill="#333" font-weight="normal" textLength="30.3" lengthAdjust="spacingAndGlyphs">Paraguay</text>
<rect x="257.00" y="312.78" width="9.8" height="8.3" fill="#ef9029"/>
<text x="268.10" y="319.78" font-size="7.6" text-anchor="start" fill="#333" font-weight="normal" textLength="14.1" lengthAdjust="spacingAndGlyphs">USA</text>
<text x="375.20" y="228.30" font-size="15" text-anchor="start" fill="#000" font-weight="bold" letter-spacing="0.6">d)</text>
<line x1="356.60" y1="422.60" x2="360.00" y2="422.60" stroke="#333" stroke-width="0.8" />
<text x="355.20" y="425.00" font-size="7" text-anchor="end" fill="#222" font-weight="normal" >0</text>
<line x1="360.00" y1="403.13" x2="635.00" y2="403.13" stroke="#f3f3f3" stroke-width="0.8" />
<line x1="356.60" y1="403.13" x2="360.00" y2="403.13" stroke="#333" stroke-width="0.8" />
<text x="355.20" y="405.53" font-size="7" text-anchor="end" fill="#222" font-weight="normal" >200</text>
<line x1="360.00" y1="383.66" x2="635.00" y2="383.66" stroke="#f3f3f3" stroke-width="0.8" />
<line x1="356.60" y1="383.66" x2="360.00" y2="383.66" stroke="#333" stroke-width="0.8" />
<text x="355.20" y="386.06" font-size="7" text-anchor="end" fill="#222" font-weight="normal" >400</text>
<line x1="360.00" y1="364.19" x2="635.00" y2="364.19" stroke="#f3f3f3" stroke-width="0.8" />
<line x1="356.60" y1="364.19" x2="360.00" y2="364.19" stroke="#333" stroke-width="0.8" />
<text x="355.20" y="366.59" font-size="7" text-anchor="end" fill="#222" font-weight="normal" >600</text>
<line x1="360.00" y1="344.72" x2="635.00" y2="344.72" stroke="#f3f3f3" stroke-width="0.8" />
<line x1="356.60" y1="344.72" x2="360.00" y2="344.72" stroke="#333" stroke-width="0.8" />
<text x="355.20" y="347.12" font-size="7" text-anchor="end" fill="#222" font-weight="normal" >800</text>
<line x1="360.00" y1="325.25" x2="635.00" y2="325.25" stroke="#f3f3f3" stroke-width="0.8" />
<line x1="356.60" y1="325.25" x2="360.00" y2="325.25" stroke="#333" stroke-width="0.8" />
<text x="355.20" y="327.65" font-size="7" text-anchor="end" fill="#222" font-weight="normal" >1000</text>
<line x1="360.00" y1="305.78" x2="635.00" y2="305.78" stroke="#f3f3f3" stroke-width="0.8" />
<line x1="356.60" y1="305.78" x2="360.00" y2="305.78" stroke="#333" stroke-width="0.8" />
<text x="355.20" y="308.18" font-size="7" text-anchor="end" fill="#222" font-weight="normal" >1200</text>
<line x1="360.00" y1="286.31" x2="635.00" y2="286.31" stroke="#f3f3f3" stroke-width="0.8" />
<line x1="356.60" y1="286.31" x2="360.00" y2="286.31" stroke="#333" stroke-width="0.8" />
<text x="355.20" y="288.71" font-size="7" text-anchor="end" fill="#222" font-weight="normal" >1400</text>
<line x1="360.00" y1="266.84" x2="635.00" y2="266.84" stroke="#f3f3f3" stroke-width="0.8" />
<line x1="356.60" y1="266.84" x2="360.00" y2="266.84" stroke="#333" stroke-width="0.8" />
<text x="355.20" y="269.24" font-size="7" text-anchor="end" fill="#222" font-weight="normal" >1600</text>
<line x1="360.00" y1="247.37" x2="635.00" y2="247.37" stroke="#f3f3f3" stroke-width="0.8" />
<line x1="356.60" y1="247.37" x2="360.00" y2="247.37" stroke="#333" stroke-width="0.8" />
<text x="355.20" y="249.77" font-size="7" text-anchor="end" fill="#222" font-weight="normal" >1800</text>
<line x1="358.30" y1="417.73" x2="360.00" y2="417.73" stroke="#333" stroke-width="0.6" />
<line x1="358.30" y1="412.87" x2="360.00" y2="412.87" stroke="#333" stroke-width="0.6" />
<line x1="358.30" y1="408.00" x2="360.00" y2="408.00" stroke="#333" stroke-width="0.6" />
<line x1="358.30" y1="398.26" x2="360.00" y2="398.26" stroke="#333" stroke-width="0.6" />
<line x1="358.30" y1="393.40" x2="360.00" y2="393.40" stroke="#333" stroke-width="0.6" />
<line x1="358.30" y1="388.53" x2="360.00" y2="388.53" stroke="#333" stroke-width="0.6" />
<line x1="358.30" y1="378.79" x2="360.00" y2="378.79" stroke="#333" stroke-width="0.6" />
<line x1="358.30" y1="373.93" x2="360.00" y2="373.93" stroke="#333" stroke-width="0.6" />
<line x1="358.30" y1="369.06" x2="360.00" y2="369.06" stroke="#333" stroke-width="0.6" />
<line x1="358.30" y1="359.32" x2="360.00" y2="359.32" stroke="#333" stroke-width="0.6" />
<line x1="358.30" y1="354.46" x2="360.00" y2="354.46" stroke="#333" stroke-width="0.6" />
<line x1="358.30" y1="349.59" x2="360.00" y2="349.59" stroke="#333" stroke-width="0.6" />
<line x1="358.30" y1="339.85" x2="360.00" y2="339.85" stroke="#333" stroke-width="0.6" />
<line x1="358.30" y1="334.99" x2="360.00" y2="334.99" stroke="#333" stroke-width="0.6" />
<line x1="358.30" y1="330.12" x2="360.00" y2="330.12" stroke="#333" stroke-width="0.6" />
<line x1="358.30" y1="320.38" x2="360.00" y2="320.38" stroke="#333" stroke-width="0.6" />
<line x1="358.30" y1="315.52" x2="360.00" y2="315.52" stroke="#333" stroke-width="0.6" />
<line x1="358.30" y1="310.65" x2="360.00" y2="310.65" stroke="#333" stroke-width="0.6" />
<line x1="358.30" y1="300.91" x2="360.00" y2="300.91" stroke="#333" stroke-width="0.6" />
<line x1="358.30" y1="296.05" x2="360.00" y2="296.05" stroke="#333" stroke-width="0.6" />
<line x1="358.30" y1="291.18" x2="360.00" y2="291.18" stroke="#333" stroke-width="0.6" />
<line x1="358.30" y1="281.44" x2="360.00" y2="281.44" stroke="#333" stroke-width="0.6" />
<line x1="358.30" y1="276.58" x2="360.00" y2="276.58" stroke="#333" stroke-width="0.6" />
<line x1="358.30" y1="271.71" x2="360.00" y2="271.71" stroke="#333" stroke-width="0.6" />
<line x1="358.30" y1="261.97" x2="360.00" y2="261.97" stroke="#333" stroke-width="0.6" />
<line x1="358.30" y1="257.11" x2="360.00" y2="257.11" stroke="#333" stroke-width="0.6" />
<line x1="358.30" y1="252.24" x2="360.00" y2="252.24" stroke="#333" stroke-width="0.6" />
<line x1="359.60" y1="246.40" x2="359.60" y2="423.50" stroke="#333" stroke-width="1.0" />
<line x1="359.60" y1="423.50" x2="635.00" y2="423.50" stroke="#444" stroke-width="1.0" />
<text x="0.00" y="0.00" font-size="6.6" text-anchor="middle" fill="#555" font-weight="normal" transform="translate(334.3,335.3) rotate(-90)">t[1, 2, 3, 4, 5, 6]</text>
<polyline points="361.5,422.4 368,422.4" fill="none" stroke="#1a1ae6" stroke-width="1.1"/>
<polyline points="368,422.4 410,422.4" fill="none" stroke="#9a2ec8" stroke-width="1.1"/>
<polyline points="394.5,422.0 398,422.0" fill="none" stroke="#1a1ae6" stroke-width="1.3"/>
<polyline points="410,422.4 452,422.4" fill="none" stroke="#c8a820" stroke-width="1.1"/>
<polyline points="452,422.4 493,422.4" fill="none" stroke="#ef8f2a" stroke-width="1.1"/>
<polyline points="493,422.4 536,422.4" fill="none" stroke="#62c0f2" stroke-width="1.1"/>
<polyline points="536,422.4 563,422.4" fill="none" stroke="#1a1ae6" stroke-width="1.1"/>
<polyline points="563,422.4 594,422.4" fill="none" stroke="#c41d18" stroke-width="1.1"/>
<polyline points="594,422.4 634,422.4" fill="none" stroke="#5aa545" stroke-width="1.1"/>
<polyline points="362.5,422.5 362.5,421.2 366.0,421.2 366.0,422.5" fill="none" stroke="#1a1ae6" stroke-width="0.9"/>
<polyline points="369.5,422.5 369.5,421.0 374.0,421.0 374.0,422.5" fill="none" stroke="#9a2ec8" stroke-width="0.9"/>
<polyline points="375.0,422.5 375.0,421.5 381.0,421.5 381.0,422.5" fill="none" stroke="#9a2ec8" stroke-width="0.8"/>
<polyline points="386.0,422.5 386.0,420.8 392.0,420.8 392.0,422.5" fill="none" stroke="#9a2ec8" stroke-width="0.8"/>
<polyline points="399.0,422.5 399.0,421.4 405.0,421.4 405.0,422.5" fill="none" stroke="#9a2ec8" stroke-width="0.8"/>
<polyline points="424.7,422.5 424.7,421.3 432.1,421.3 432.1,422.5" fill="none" stroke="#e2c22c" stroke-width="0.9"/>
<polyline points="436.0,422.5 436.0,421.6 444.0,421.6 444.0,422.5" fill="none" stroke="#e2c22c" stroke-width="0.8"/>
<polyline points="452.3,422.5 452.3,420.6 456.0,420.6 456.0,422.5" fill="none" stroke="#ef8f2a" stroke-width="0.9"/>
<polyline points="466.0,422.5 466.0,420.0 478.0,420.0 478.0,422.5" fill="none" stroke="#ef8f2a" stroke-width="0.9"/>
<polyline points="480.0,422.5 480.0,421.2 490.0,421.2 490.0,422.5" fill="none" stroke="#ef8f2a" stroke-width="0.8"/>
<polyline points="494.4,422.5 494.4,419.9 503.1,419.9 503.1,422.5" fill="none" stroke="#62c0f2" stroke-width="0.9"/>
<polyline points="513.2,422.5 513.2,421.0 524.3,421.0 524.3,422.5" fill="none" stroke="#62c0f2" stroke-width="0.9"/>
<polyline points="526.0,422.5 526.0,421.5 534.0,421.5 534.0,422.5" fill="none" stroke="#62c0f2" stroke-width="0.8"/>
<polyline points="538.4,422.5 538.4,421.0 542.0,421.0 542.0,422.5" fill="none" stroke="#1a1ae6" stroke-width="0.9"/>
<polyline points="545.2,422.5 545.2,420.4 554.7,420.4 554.7,422.5" fill="none" stroke="#1a1ae6" stroke-width="0.9"/>
<polyline points="556.0,422.5 556.0,421.4 561.0,421.4 561.0,422.5" fill="none" stroke="#1a1ae6" stroke-width="0.8"/>
<polyline points="565.0,422.5 565.0,421.3 571.0,421.3 571.0,422.5" fill="none" stroke="#c41d18" stroke-width="0.8"/>
<polyline points="584.0,422.5 584.0,421.0 591.0,421.0 591.0,422.5" fill="none" stroke="#c41d18" stroke-width="0.8"/>
<polyline points="597.0,422.5 597.0,421.2 604.0,421.2 604.0,422.5" fill="none" stroke="#5aa545" stroke-width="0.8"/>
<polyline points="613.0,422.5 613.0,420.8 622.0,420.8 622.0,422.5" fill="none" stroke="#5aa545" stroke-width="0.8"/>
<polyline points="624.0,422.5 624.0,421.4 632.0,421.4 632.0,422.5" fill="none" stroke="#5aa545" stroke-width="0.8"/>
<polyline points="363.4,422.5 363.4,420.3 371.6,420.3 371.6,421.5" fill="none" stroke="#111" stroke-width="1.0"/>
<polyline points="384.7,422.5 384.7,419.2 397.8,419.2 397.8,422.5" fill="none" stroke="#111" stroke-width="1.0"/>
<polyline points="384.7,419.2 384.7,422.5" fill="none" stroke="#9a2ec8" stroke-width="1.0"/>
<polyline points="414.2,422.5 414.2,419.4 428.5,419.4 428.5,422.0" fill="none" stroke="#e2c22c" stroke-width="1.0"/>
<polyline points="421.2,377.3 421.2,419.4" fill="none" stroke="#e2c22c" stroke-width="1.0"/>
<polyline points="452.3,422.5 452.3,419.3 459.7,419.3 459.7,422.0" fill="none" stroke="#111" stroke-width="1.0"/>
<polyline points="452.3,419.3 452.3,422.5" fill="none" stroke="#ef8f2a" stroke-width="1.0"/>
<polyline points="471.9,416.4 471.9,422.3" fill="none" stroke="#ef8f2a" stroke-width="1.0"/>
<polyline points="499.1,420.1 499.1,417.1 518.8,417.1 518.8,421.7" fill="none" stroke="#62c0f2" stroke-width="1.0"/>
<polyline points="509.2,349.6 509.2,417.1" fill="none" stroke="#62c0f2" stroke-width="1.0"/>
<polyline points="538.4,422.3 538.4,418.3 550.1,418.3 550.1,420.4" fill="none" stroke="#1a1ae6" stroke-width="1.0"/>
<polyline points="544.5,377.4 544.5,418.3" fill="none" stroke="#1a1ae6" stroke-width="1.0"/>
<polyline points="567.4,415.0 567.4,422.3" fill="none" stroke="#c41d18" stroke-width="1.0"/>
<polyline points="596.3,422.3 596.3,419.4 619.4,419.4 619.4,421.5" fill="none" stroke="#111" stroke-width="1.0"/>
<polyline points="596.3,419.4 596.3,422.3" fill="none" stroke="#5aa545" stroke-width="1.0"/>
<polyline points="379.5,415.4 379.5,263.5 490.6,263.5 490.6,336.3" fill="none" stroke="#111" stroke-width="1.1"/>
<polyline points="367.5,420.3 367.5,415.4 391.1,415.4 391.1,419.2" fill="none" stroke="#111" stroke-width="1.1"/>
<polyline points="442.6,377.3 442.6,336.3 538.9,336.3 538.9,349.6" fill="none" stroke="#111" stroke-width="1.1"/>
<polyline points="421.2,377.3 464.0,377.3" fill="none" stroke="#111" stroke-width="1.1"/>
<polyline points="464.0,377.3 464.0,416.4" fill="none" stroke="#111" stroke-width="1.1"/>
<polyline points="455.8,416.4 471.9,416.4" fill="none" stroke="#111" stroke-width="1.1"/>
<polyline points="455.8,416.4 455.8,419.3" fill="none" stroke="#111" stroke-width="1.1"/>
<polyline points="509.2,349.6 568.3,349.6" fill="none" stroke="#111" stroke-width="1.1"/>
<polyline points="568.3,349.6 568.3,377.4" fill="none" stroke="#111" stroke-width="1.1"/>
<polyline points="592.6,377.4 592.6,396.9" fill="none" stroke="#111" stroke-width="1.1"/>
<polyline points="544.5,377.4 592.6,377.4" fill="none" stroke="#111" stroke-width="1.1"/>
<polyline points="575.5,415.0 575.5,396.9 609.8,396.9 609.8,419.4" fill="none" stroke="#111" stroke-width="1.1"/>
<polyline points="567.4,415.0 567.4,415.0 583.2,415.0 583.2,421.0" fill="none" stroke="#111" stroke-width="1.1"/>
<rect x="641.10" y="247.60" width="9.8" height="8.3" fill="#6ea555"/>
<text x="652.20" y="254.60" font-size="7.6" text-anchor="start" fill="#333" font-weight="normal" textLength="32.2" lengthAdjust="spacingAndGlyphs">Argentina</text>
<rect x="641.10" y="258.43" width="9.8" height="8.3" fill="#1414f5"/>
<text x="652.20" y="265.43" font-size="7.6" text-anchor="start" fill="#333" font-weight="normal" textLength="17.6" lengthAdjust="spacingAndGlyphs">Brazil</text>
<rect x="641.10" y="269.26" width="9.8" height="8.3" fill="#bb1a16"/>
<text x="652.20" y="276.26" font-size="7.6" text-anchor="start" fill="#333" font-weight="normal" textLength="24.7" lengthAdjust="spacingAndGlyphs">Canada</text>
<rect x="641.10" y="280.09" width="9.8" height="8.3" fill="#e3c435"/>
<text x="652.20" y="287.09" font-size="7.6" text-anchor="start" fill="#333" font-weight="normal" textLength="18.6" lengthAdjust="spacingAndGlyphs">China</text>
<rect x="641.10" y="290.92" width="9.8" height="8.3" fill="#5dd3f8"/>
<text x="652.20" y="297.92" font-size="7.6" text-anchor="start" fill="#333" font-weight="normal" textLength="16.5" lengthAdjust="spacingAndGlyphs">India</text>
<rect x="641.10" y="301.75" width="9.8" height="8.3" fill="#9534c6"/>
<text x="652.20" y="308.75" font-size="7.6" text-anchor="start" fill="#333" font-weight="normal" textLength="30.3" lengthAdjust="spacingAndGlyphs">Paraguay</text>
<rect x="641.10" y="312.58" width="9.8" height="8.3" fill="#ef9029"/>
<text x="652.20" y="319.58" font-size="7.6" text-anchor="start" fill="#333" font-weight="normal" textLength="14.1" lengthAdjust="spacingAndGlyphs">USA</text>
</svg></body></html>
